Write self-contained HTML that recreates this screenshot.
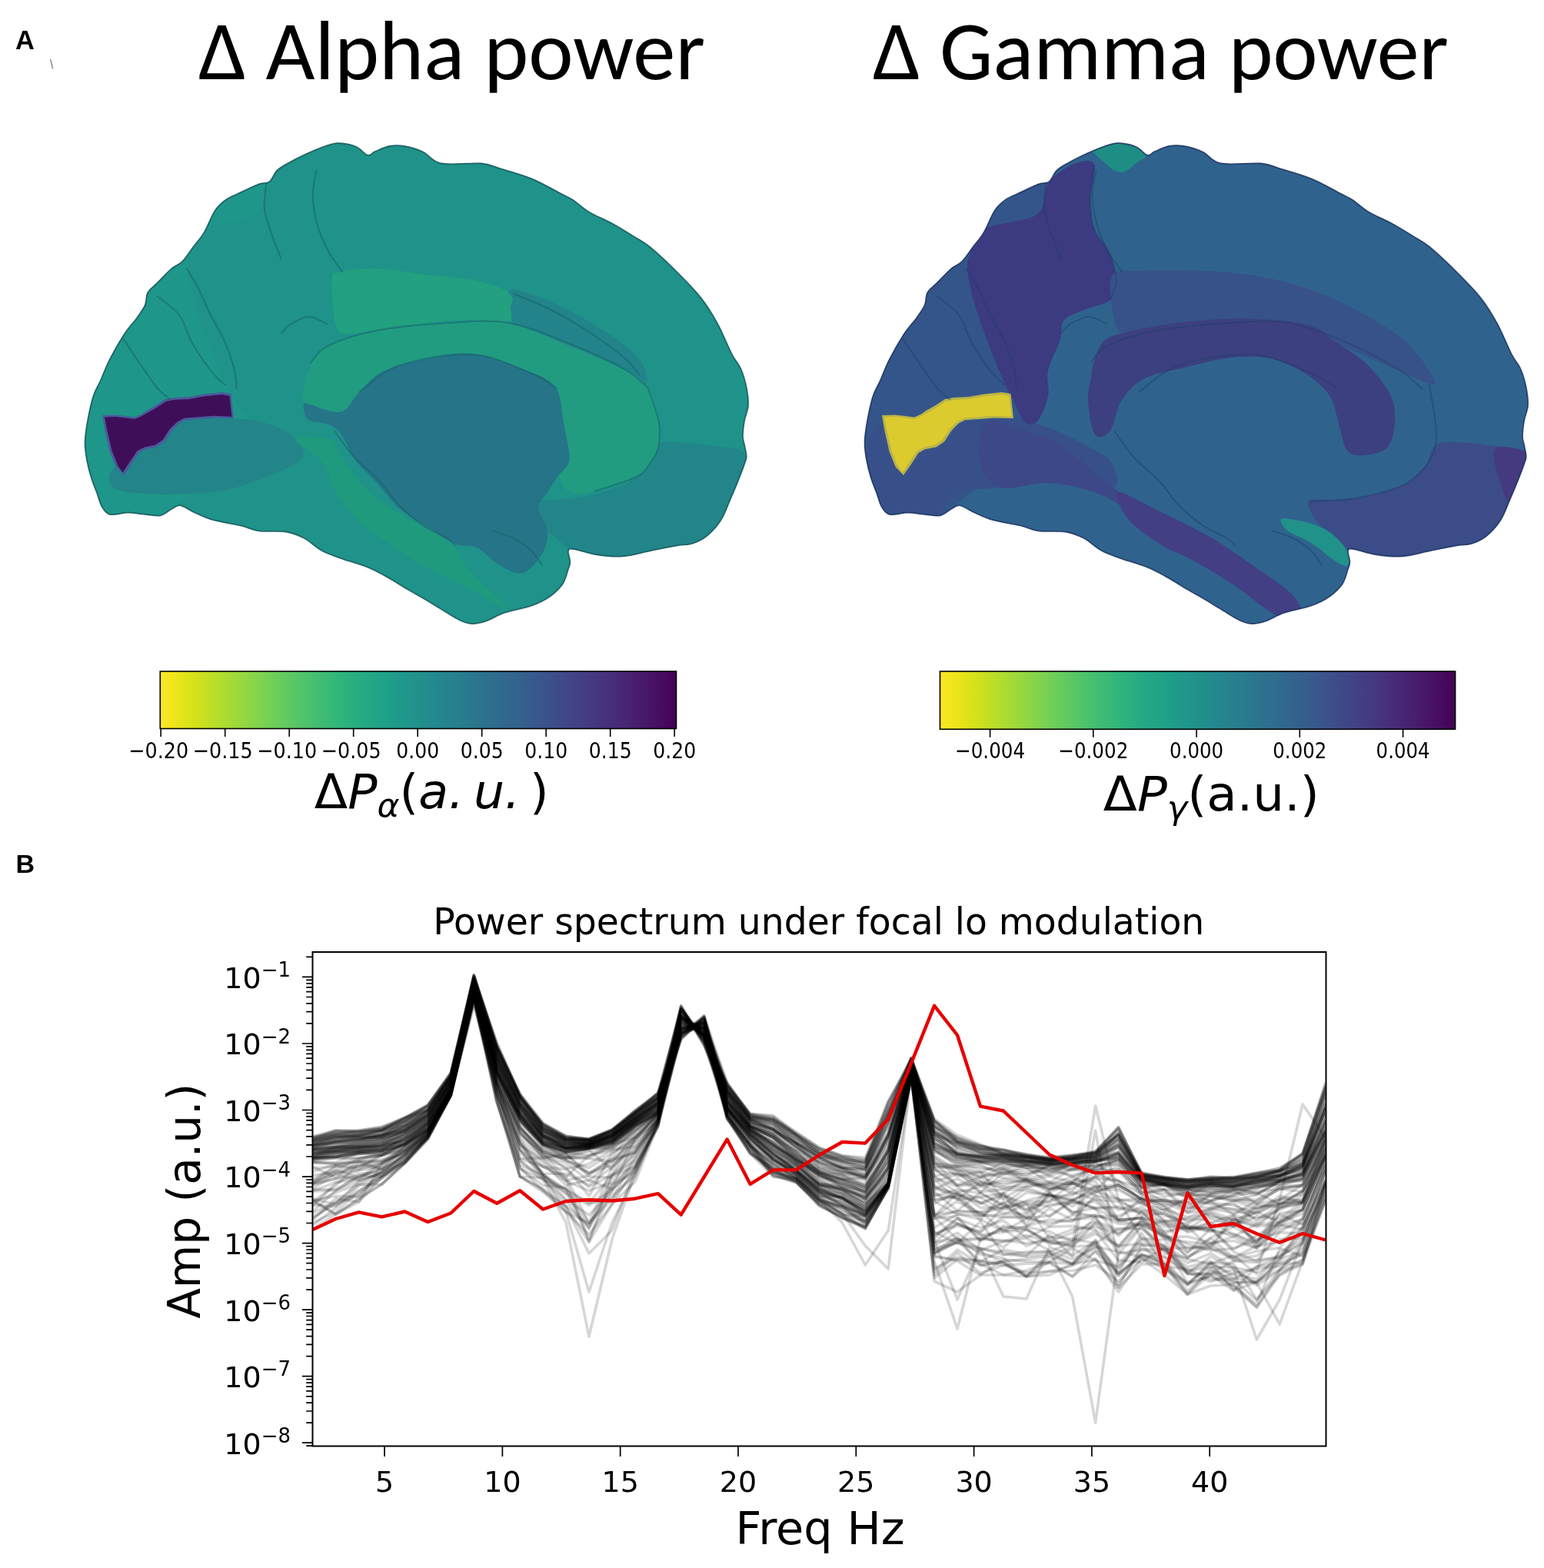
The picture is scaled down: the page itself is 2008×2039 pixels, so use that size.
<!DOCTYPE html><html><head><meta charset="utf-8"><title>Figure</title><style>html,body{margin:0;padding:0;background:#fff;}svg{display:block;}.dj{font-family:"DejaVu Sans","Liberation Sans",sans-serif;}.djo{font-family:"DejaVu Sans","Liberation Sans",sans-serif;font-style:oblique;}.ca{font-family:"Carlito","Liberation Sans",sans-serif;}.lb{font-family:"Liberation Sans",Arial,sans-serif;font-weight:bold;}</style></head><body><svg xmlns="http://www.w3.org/2000/svg" width="2008" height="2039" viewBox="0 0 2008 2039"><rect width="2008" height="2039" fill="#fff"/><defs><linearGradient id="vr" x1="0" y1="0" x2="1" y2="0"><stop offset="0.0000" stop-color="#fde725"/><stop offset="0.0312" stop-color="#ece51b"/><stop offset="0.0625" stop-color="#d8e219"/><stop offset="0.0938" stop-color="#c2df23"/><stop offset="0.1250" stop-color="#addc30"/><stop offset="0.1562" stop-color="#98d83e"/><stop offset="0.1875" stop-color="#84d44b"/><stop offset="0.2188" stop-color="#70cf57"/><stop offset="0.2500" stop-color="#5ec962"/><stop offset="0.2812" stop-color="#4ec36b"/><stop offset="0.3125" stop-color="#3fbc73"/><stop offset="0.3438" stop-color="#32b67a"/><stop offset="0.3750" stop-color="#28ae80"/><stop offset="0.4062" stop-color="#22a785"/><stop offset="0.4375" stop-color="#1fa088"/><stop offset="0.4688" stop-color="#1f988b"/><stop offset="0.5000" stop-color="#21918c"/><stop offset="0.5312" stop-color="#23898e"/><stop offset="0.5625" stop-color="#26828e"/><stop offset="0.5938" stop-color="#297a8e"/><stop offset="0.6250" stop-color="#2c728e"/><stop offset="0.6562" stop-color="#2f6b8e"/><stop offset="0.6875" stop-color="#33638d"/><stop offset="0.7188" stop-color="#375b8d"/><stop offset="0.7500" stop-color="#3b528b"/><stop offset="0.7812" stop-color="#3e4989"/><stop offset="0.8125" stop-color="#424086"/><stop offset="0.8438" stop-color="#453781"/><stop offset="0.8750" stop-color="#472d7b"/><stop offset="0.9062" stop-color="#482374"/><stop offset="0.9375" stop-color="#48186a"/><stop offset="0.9688" stop-color="#470d60"/><stop offset="1.0000" stop-color="#440154"/></linearGradient><clipPath id="bclip"><path d="M113.0,598.2 C111.6,590.3 110.4,583.2 110.6,574.5 C110.8,565.8 112.4,556.0 114.2,546.2 C116.0,536.4 118.5,524.0 121.3,515.5 C124.0,507.0 127.2,502.9 130.7,495.0 C134.2,487.1 137.4,477.9 142.5,467.8 C147.6,457.8 155.6,443.8 161.5,434.7 C167.4,425.6 173.5,419.7 178.0,413.4 C182.5,407.1 186.2,402.4 188.6,396.9 C191.0,391.4 189.6,385.1 192.2,380.4 C194.8,375.7 198.9,373.6 204.0,368.5 C209.1,363.4 217.4,354.3 222.9,349.6 C228.4,344.9 232.3,344.9 237.0,340.2 C241.7,335.5 246.6,327.6 251.3,321.3 C256.0,315.0 260.7,310.3 265.4,302.4 C270.1,294.5 274.9,281.1 279.6,274.0 C284.3,266.9 288.3,263.7 293.8,259.8 C299.3,255.9 305.6,253.8 312.7,250.4 C319.8,247.1 330.0,242.1 336.3,239.7 C342.6,237.3 346.6,239.1 350.5,236.2 C354.4,233.2 356.1,225.9 360.0,222.0 C363.9,218.1 367.1,216.4 374.2,212.5 C381.3,208.6 393.1,202.5 402.5,198.4 C411.9,194.3 423.8,189.7 430.9,187.7 C438.0,185.7 439.5,185.9 445.0,186.5 C450.5,187.1 458.5,188.7 464.0,191.3 C469.5,193.9 474.3,200.9 478.2,201.9 C482.1,202.9 482.9,199.2 487.6,197.2 C492.3,195.2 500.2,191.2 506.5,190.0 C512.8,188.8 518.1,188.8 525.4,190.0 C532.6,191.2 542.0,193.8 550.0,197.5 C558.0,201.2 561.0,210.0 573.6,212.5 C586.2,215.0 612.6,211.3 625.6,212.5 C638.6,213.7 640.6,216.2 651.6,219.6 C662.6,222.9 678.9,227.3 691.8,232.6 C704.7,237.9 720.1,247.0 729.0,251.6 C737.9,256.2 738.8,256.0 745.0,260.0 C751.2,264.0 757.2,270.4 766.0,275.7 C774.8,280.9 788.0,286.2 797.6,291.5 C807.2,296.8 815.8,302.2 823.8,307.2 C831.8,312.2 835.9,313.4 845.4,321.3 C854.9,329.2 870.0,343.4 881.0,354.4 C892.0,365.4 903.0,376.4 911.6,387.4 C920.2,398.4 926.2,408.3 932.9,420.5 C939.6,432.7 946.7,450.8 951.8,460.7 C956.9,470.6 960.5,472.9 963.6,480.0 C966.8,487.1 969.1,495.7 970.7,503.6 C972.3,511.5 973.4,520.2 973.0,527.3 C972.6,534.4 969.5,539.5 968.3,546.2 C967.1,552.9 966.0,562.0 966.0,567.5 C966.0,573.0 967.5,575.0 968.3,579.3 C969.1,583.6 970.7,589.5 970.7,593.4 C970.7,597.3 969.9,598.2 968.3,602.9 C966.7,607.6 964.4,613.9 961.2,621.8 C958.1,629.7 953.3,641.1 949.4,650.2 C945.5,659.3 942.7,668.3 937.6,676.2 C932.5,684.1 925.0,692.3 918.7,697.4 C912.4,702.5 906.1,705.0 899.8,707.0 C893.5,709.0 890.1,707.8 881.0,709.3 C871.9,710.8 857.2,713.9 845.4,716.3 C833.6,718.6 821.8,722.6 810.0,723.4 C798.2,724.2 785.1,722.6 774.5,721.0 C763.9,719.4 752.1,714.8 746.2,714.0 C740.3,713.2 739.8,713.5 739.0,716.3 C738.2,719.0 741.4,726.5 741.4,730.5 C741.4,734.5 740.6,735.3 739.0,740.0 C737.4,744.7 735.9,753.0 732.0,758.9 C728.1,764.8 722.1,770.7 715.4,775.4 C708.7,780.1 701.6,783.8 691.8,787.3 C682.0,790.8 666.2,793.4 656.4,796.7 C646.5,800.0 639.8,804.9 632.7,807.3 C625.6,809.7 619.7,811.2 613.8,811.0 C607.9,810.8 604.0,809.4 597.3,806.2 C590.6,803.0 581.5,796.7 573.6,792.0 C565.7,787.3 558.0,782.5 550.0,777.8 C542.0,773.1 533.4,768.3 525.4,763.6 C517.4,758.9 509.7,753.7 501.8,749.4 C493.9,745.1 488.1,741.5 478.2,737.6 C468.3,733.7 452.6,729.3 442.7,725.8 C432.8,722.2 426.9,720.6 419.0,716.3 C411.1,712.0 403.3,703.9 395.4,699.8 C387.5,695.7 381.6,693.1 371.8,691.5 C362.0,689.9 346.2,691.7 336.3,690.3 C326.4,688.9 322.5,685.6 312.7,683.3 C302.9,680.9 287.2,679.0 277.3,676.2 C267.4,673.4 260.7,669.9 253.6,666.7 C246.5,663.6 239.8,658.1 234.7,657.3 C229.6,656.5 227.2,659.8 222.9,662.0 C218.6,664.2 214.2,669.1 208.7,670.3 C203.2,671.5 196.9,669.6 189.8,669.0 C182.7,668.4 173.9,666.7 166.2,666.7 C158.5,666.7 149.2,670.2 143.7,669.0 C138.2,667.8 135.9,664.3 133.0,659.6 C130.1,654.9 128.3,647.0 126.0,640.7 C123.7,634.4 121.1,628.9 118.9,621.8 C116.7,614.7 114.4,606.1 113.0,598.2Z"/></clipPath><clipPath id="axclip"><rect x="406.5" y="1238" width="1318" height="642.5"/></clipPath></defs><text class="lb" x="20" y="63.9" font-size="34.4">A</text><line x1="65.6" y1="77" x2="68.6" y2="89.5" stroke="#777" stroke-width="1.2"/><text class="lb" x="20.5" y="1134.6" font-size="34">B</text><text class="ca" x="258" y="102.5" font-size="108.5" textLength="659" lengthAdjust="spacingAndGlyphs">Δ Alpha power</text><text class="ca" x="1135" y="102.5" font-size="108.5" textLength="749" lengthAdjust="spacingAndGlyphs">Δ Gamma power</text><g><path d="M113.0,598.2 C111.6,590.3 110.4,583.2 110.6,574.5 C110.8,565.8 112.4,556.0 114.2,546.2 C116.0,536.4 118.5,524.0 121.3,515.5 C124.0,507.0 127.2,502.9 130.7,495.0 C134.2,487.1 137.4,477.9 142.5,467.8 C147.6,457.8 155.6,443.8 161.5,434.7 C167.4,425.6 173.5,419.7 178.0,413.4 C182.5,407.1 186.2,402.4 188.6,396.9 C191.0,391.4 189.6,385.1 192.2,380.4 C194.8,375.7 198.9,373.6 204.0,368.5 C209.1,363.4 217.4,354.3 222.9,349.6 C228.4,344.9 232.3,344.9 237.0,340.2 C241.7,335.5 246.6,327.6 251.3,321.3 C256.0,315.0 260.7,310.3 265.4,302.4 C270.1,294.5 274.9,281.1 279.6,274.0 C284.3,266.9 288.3,263.7 293.8,259.8 C299.3,255.9 305.6,253.8 312.7,250.4 C319.8,247.1 330.0,242.1 336.3,239.7 C342.6,237.3 346.6,239.1 350.5,236.2 C354.4,233.2 356.1,225.9 360.0,222.0 C363.9,218.1 367.1,216.4 374.2,212.5 C381.3,208.6 393.1,202.5 402.5,198.4 C411.9,194.3 423.8,189.7 430.9,187.7 C438.0,185.7 439.5,185.9 445.0,186.5 C450.5,187.1 458.5,188.7 464.0,191.3 C469.5,193.9 474.3,200.9 478.2,201.9 C482.1,202.9 482.9,199.2 487.6,197.2 C492.3,195.2 500.2,191.2 506.5,190.0 C512.8,188.8 518.1,188.8 525.4,190.0 C532.6,191.2 542.0,193.8 550.0,197.5 C558.0,201.2 561.0,210.0 573.6,212.5 C586.2,215.0 612.6,211.3 625.6,212.5 C638.6,213.7 640.6,216.2 651.6,219.6 C662.6,222.9 678.9,227.3 691.8,232.6 C704.7,237.9 720.1,247.0 729.0,251.6 C737.9,256.2 738.8,256.0 745.0,260.0 C751.2,264.0 757.2,270.4 766.0,275.7 C774.8,280.9 788.0,286.2 797.6,291.5 C807.2,296.8 815.8,302.2 823.8,307.2 C831.8,312.2 835.9,313.4 845.4,321.3 C854.9,329.2 870.0,343.4 881.0,354.4 C892.0,365.4 903.0,376.4 911.6,387.4 C920.2,398.4 926.2,408.3 932.9,420.5 C939.6,432.7 946.7,450.8 951.8,460.7 C956.9,470.6 960.5,472.9 963.6,480.0 C966.8,487.1 969.1,495.7 970.7,503.6 C972.3,511.5 973.4,520.2 973.0,527.3 C972.6,534.4 969.5,539.5 968.3,546.2 C967.1,552.9 966.0,562.0 966.0,567.5 C966.0,573.0 967.5,575.0 968.3,579.3 C969.1,583.6 970.7,589.5 970.7,593.4 C970.7,597.3 969.9,598.2 968.3,602.9 C966.7,607.6 964.4,613.9 961.2,621.8 C958.1,629.7 953.3,641.1 949.4,650.2 C945.5,659.3 942.7,668.3 937.6,676.2 C932.5,684.1 925.0,692.3 918.7,697.4 C912.4,702.5 906.1,705.0 899.8,707.0 C893.5,709.0 890.1,707.8 881.0,709.3 C871.9,710.8 857.2,713.9 845.4,716.3 C833.6,718.6 821.8,722.6 810.0,723.4 C798.2,724.2 785.1,722.6 774.5,721.0 C763.9,719.4 752.1,714.8 746.2,714.0 C740.3,713.2 739.8,713.5 739.0,716.3 C738.2,719.0 741.4,726.5 741.4,730.5 C741.4,734.5 740.6,735.3 739.0,740.0 C737.4,744.7 735.9,753.0 732.0,758.9 C728.1,764.8 722.1,770.7 715.4,775.4 C708.7,780.1 701.6,783.8 691.8,787.3 C682.0,790.8 666.2,793.4 656.4,796.7 C646.5,800.0 639.8,804.9 632.7,807.3 C625.6,809.7 619.7,811.2 613.8,811.0 C607.9,810.8 604.0,809.4 597.3,806.2 C590.6,803.0 581.5,796.7 573.6,792.0 C565.7,787.3 558.0,782.5 550.0,777.8 C542.0,773.1 533.4,768.3 525.4,763.6 C517.4,758.9 509.7,753.7 501.8,749.4 C493.9,745.1 488.1,741.5 478.2,737.6 C468.3,733.7 452.6,729.3 442.7,725.8 C432.8,722.2 426.9,720.6 419.0,716.3 C411.1,712.0 403.3,703.9 395.4,699.8 C387.5,695.7 381.6,693.1 371.8,691.5 C362.0,689.9 346.2,691.7 336.3,690.3 C326.4,688.9 322.5,685.6 312.7,683.3 C302.9,680.9 287.2,679.0 277.3,676.2 C267.4,673.4 260.7,669.9 253.6,666.7 C246.5,663.6 239.8,658.1 234.7,657.3 C229.6,656.5 227.2,659.8 222.9,662.0 C218.6,664.2 214.2,669.1 208.7,670.3 C203.2,671.5 196.9,669.6 189.8,669.0 C182.7,668.4 173.9,666.7 166.2,666.7 C158.5,666.7 149.2,670.2 143.7,669.0 C138.2,667.8 135.9,664.3 133.0,659.6 C130.1,654.9 128.3,647.0 126.0,640.7 C123.7,634.4 121.1,628.9 118.9,621.8 C116.7,614.7 114.4,606.1 113.0,598.2Z" fill="#1f9289"/><g clip-path="url(#bclip)"><path d="M90.0,340.0 C105.0,290.0 151.7,310.0 180.0,300.0 C208.3,290.0 235.0,290.0 260.0,280.0 C285.0,270.0 314.3,248.3 330.0,240.0 C345.7,231.7 351.3,228.7 354.0,230.0 C356.7,231.3 349.5,239.7 346.0,248.0 C342.5,256.3 346.5,271.7 333.0,280.0 C319.5,288.3 279.0,290.2 265.0,298.0 C251.0,305.8 252.5,318.7 249.0,327.0 C245.5,335.3 243.5,337.5 244.0,348.0 C244.5,358.5 247.7,374.2 252.0,390.0 C256.3,405.8 263.5,425.5 270.0,443.0 C276.5,460.5 285.3,482.0 291.0,495.0 C296.7,508.0 297.5,511.0 304.0,521.0 C310.5,531.0 330.7,541.8 330.0,555.0 C329.3,568.2 313.3,585.8 300.0,600.0 C286.7,614.2 266.7,627.5 250.0,640.0 C233.3,652.5 220.0,666.7 200.0,675.0 C180.0,683.3 148.3,702.5 130.0,690.0 C111.7,677.5 96.7,658.3 90.0,600.0 C83.3,541.7 75.0,390.0 90.0,340.0Z" fill="#1f968a"/><path d="M145.0,612.0 C148.0,607.8 155.0,603.7 160.0,600.0 C165.0,596.3 170.0,593.0 175.0,590.0 C180.0,587.0 185.0,584.3 190.0,582.0 C195.0,579.7 200.8,578.7 205.0,576.0 C209.2,573.3 211.7,570.0 215.0,566.0 C218.3,562.0 220.8,555.3 225.0,552.0 C229.2,548.7 230.8,547.5 240.0,546.0 C249.2,544.5 270.0,543.3 280.0,543.0 C290.0,542.7 290.7,543.2 300.0,544.0 C309.3,544.8 324.3,545.3 336.0,548.0 C347.7,550.7 361.0,555.0 370.0,560.0 C379.0,565.0 386.2,572.2 390.0,578.0 C393.8,583.8 396.3,589.7 393.0,595.0 C389.7,600.3 379.5,605.2 370.0,610.0 C360.5,614.8 349.5,619.3 336.0,624.0 C322.5,628.7 308.7,634.8 289.0,638.0 C269.3,641.2 240.0,643.0 218.0,643.0 C196.0,643.0 169.7,641.0 157.0,638.0 C144.3,635.0 144.0,629.3 142.0,625.0 C140.0,620.7 142.0,616.2 145.0,612.0Z" fill="#23848a"/><path d="M688.0,652.0 C691.3,647.0 709.0,650.8 720.0,650.0 C731.0,649.2 742.3,649.0 754.0,647.0 C765.7,645.0 779.2,641.5 790.0,638.0 C800.8,634.5 810.7,631.5 819.0,626.0 C827.3,620.5 834.3,612.8 840.0,605.0 C845.7,597.2 846.3,584.0 853.0,579.0 C859.7,574.0 867.2,574.8 880.0,575.0 C892.8,575.2 915.3,577.5 930.0,580.0 C944.7,582.5 958.8,580.0 968.0,590.0 C977.2,600.0 984.7,623.3 985.0,640.0 C985.3,656.7 978.3,678.3 970.0,690.0 C961.7,701.7 946.7,705.8 935.0,710.0 C923.3,714.2 912.5,713.0 900.0,715.0 C887.5,717.0 875.0,719.5 860.0,722.0 C845.0,724.5 825.0,729.0 810.0,730.0 C795.0,731.0 780.8,729.7 770.0,728.0 C759.2,726.3 751.7,723.8 745.0,720.0 C738.3,716.2 737.5,711.7 730.0,705.0 C722.5,698.3 707.0,688.8 700.0,680.0 C693.0,671.2 684.7,657.0 688.0,652.0Z" fill="#228589"/><path d="M662.0,378.0 C667.7,372.7 687.0,381.7 700.0,386.0 C713.0,390.3 726.7,397.2 740.0,404.0 C753.3,410.8 767.5,419.2 780.0,427.0 C792.5,434.8 805.3,442.5 815.0,451.0 C824.7,459.5 834.5,469.0 838.0,478.0 C841.5,487.0 842.3,504.7 836.0,505.0 C829.7,505.3 812.7,487.5 800.0,480.0 C787.3,472.5 773.2,466.2 760.0,460.0 C746.8,453.8 734.0,448.0 721.0,443.0 C708.0,438.0 691.2,434.2 682.0,430.0 C672.8,425.8 669.3,426.7 666.0,418.0 C662.7,409.3 656.3,383.3 662.0,378.0Z" fill="#22838b"/><path d="M432.0,362.0 C433.0,355.2 429.5,356.2 439.0,354.0 C448.5,351.8 470.2,348.5 489.0,349.0 C507.8,349.5 531.0,354.5 552.0,357.0 C573.0,359.5 598.7,361.2 615.0,364.0 C631.3,366.8 641.5,370.3 650.0,374.0 C658.5,377.7 663.7,381.7 666.0,386.0 C668.3,390.3 664.7,394.7 664.0,400.0 C663.3,405.3 669.3,415.3 662.0,418.0 C654.7,420.7 633.2,416.2 620.0,416.0 C606.8,415.8 599.7,415.7 583.0,417.0 C566.3,418.3 538.8,421.5 520.0,424.0 C501.2,426.5 482.5,430.5 470.0,432.0 C457.5,433.5 450.7,435.0 445.0,433.0 C439.3,431.0 438.0,426.3 436.0,420.0 C434.0,413.7 433.7,404.7 433.0,395.0 C432.3,385.3 431.0,368.8 432.0,362.0Z" fill="#22a07f"/><path d="M394.0,519.0 C392.3,511.2 397.0,494.5 400.0,485.0 C403.0,475.5 407.0,468.2 412.0,462.0 C417.0,455.8 417.2,453.3 430.0,448.0 C442.8,442.7 463.5,434.7 489.0,430.0 C514.5,425.3 554.2,421.5 583.0,420.0 C611.8,418.5 635.7,416.0 662.0,421.0 C688.3,426.0 716.0,440.0 741.0,450.0 C766.0,460.0 795.0,471.8 812.0,481.0 C829.0,490.2 835.5,493.5 843.0,505.0 C850.5,516.5 854.8,537.2 857.0,550.0 C859.2,562.8 858.0,573.2 856.0,582.0 C854.0,590.8 849.7,596.7 845.0,603.0 C840.3,609.3 840.0,614.0 828.0,620.0 C816.0,626.0 787.5,635.7 773.0,639.0 C758.5,642.3 748.8,644.0 741.0,640.0 C733.2,636.0 726.0,622.0 726.0,615.0 C726.0,608.0 740.0,608.7 741.0,598.0 C742.0,587.3 734.7,564.2 732.0,551.0 C729.3,537.8 732.0,528.8 725.0,519.0 C718.0,509.2 708.3,501.5 690.0,492.0 C671.7,482.5 638.0,466.5 615.0,462.0 C592.0,457.5 573.0,459.7 552.0,465.0 C531.0,470.3 503.7,486.0 489.0,494.0 C474.3,502.0 470.3,506.2 464.0,513.0 C457.7,519.8 456.3,530.8 451.0,535.0 C445.7,539.2 438.8,538.5 432.0,538.0 C425.2,537.5 416.3,535.2 410.0,532.0 C403.7,528.8 395.7,526.8 394.0,519.0Z" fill="#229c81"/><path d="M467.0,510.0 C475.0,502.0 484.5,489.3 500.0,482.0 C515.5,474.7 540.8,469.7 560.0,466.0 C579.2,462.3 595.0,457.7 615.0,460.0 C635.0,462.3 662.2,472.8 680.0,480.0 C697.8,487.2 713.2,491.3 722.0,503.0 C730.8,514.7 730.0,534.2 733.0,550.0 C736.0,565.8 741.3,586.3 740.0,598.0 C738.7,609.7 729.7,613.0 725.0,620.0 C720.3,627.0 716.2,633.3 712.0,640.0 C707.8,646.7 700.0,651.7 700.0,660.0 C700.0,668.3 711.2,680.0 712.0,690.0 C712.8,700.0 710.3,710.8 705.0,720.0 C699.7,729.2 689.2,742.5 680.0,745.0 C670.8,747.5 660.0,740.5 650.0,735.0 C640.0,729.5 629.3,716.5 620.0,712.0 C610.7,707.5 604.0,712.0 594.0,708.0 C584.0,704.0 572.3,695.7 560.0,688.0 C547.7,680.3 531.3,671.7 520.0,662.0 C508.7,652.3 501.7,640.7 492.0,630.0 C482.3,619.3 469.5,608.0 462.0,598.0 C454.5,588.0 451.5,577.0 447.0,570.0 C442.5,563.0 439.5,559.3 435.0,556.0 C430.5,552.7 425.8,551.8 420.0,550.0 C414.2,548.2 404.0,549.2 400.0,545.0 C396.0,540.8 392.7,527.2 396.0,525.0 C399.3,522.8 412.7,530.2 420.0,532.0 C427.3,533.8 434.7,536.3 440.0,536.0 C445.3,535.7 447.5,534.3 452.0,530.0 C456.5,525.7 459.0,518.0 467.0,510.0Z" fill="#267488"/><path d="M384.0,570.0 C382.0,574.7 409.2,588.3 418.0,600.0 C426.8,611.7 430.7,629.0 437.0,640.0 C443.3,651.0 449.2,658.0 456.0,666.0 C462.8,674.0 469.3,681.0 478.0,688.0 C486.7,695.0 497.7,701.0 508.0,708.0 C518.3,715.0 527.7,722.7 540.0,730.0 C552.3,737.3 568.0,744.8 582.0,752.0 C596.0,759.2 613.5,767.5 624.0,773.0 C634.5,778.5 639.0,782.2 645.0,785.0 C651.0,787.8 660.8,792.5 660.0,790.0 C659.2,787.5 649.2,779.2 640.0,770.0 C630.8,760.8 613.0,744.7 605.0,735.0 C597.0,725.3 599.3,719.5 592.0,712.0 C584.7,704.5 573.2,697.3 561.0,690.0 C548.8,682.7 531.2,675.2 519.0,668.0 C506.8,660.8 497.8,655.5 488.0,647.0 C478.2,638.5 467.8,626.8 460.0,617.0 C452.2,607.2 446.0,595.5 441.0,588.0 C436.0,580.5 439.5,575.0 430.0,572.0 C420.5,569.0 386.0,565.3 384.0,570.0Z" fill="#1f9a7c"/><path d="M133.0,540.0 L150.0,539.5 L164.0,541.0 L175.0,542.5 L183.0,539.0 L192.0,533.0 L201.0,528.0 L215.0,519.0 L226.0,517.0 L246.0,516.0 L265.0,512.5 L289.0,510.0 L300.5,512.0 L304.0,544.0 L278.0,543.5 L241.0,546.3 L232.5,550.8 L223.5,560.0 L214.0,574.5 L203.5,581.5 L189.0,584.2 L180.5,589.0 L171.5,603.0 L161.0,618.0 L150.5,607.0 L142.5,587.0 L136.0,558.0Z" fill="#4a5a9a"/><path d="M136.0,542.5 L150.0,542.0 L164.0,543.6 L175.0,545.0 L183.0,541.7 L193.0,536.0 L202.0,531.0 L216.0,522.0 L226.0,520.0 L246.0,519.0 L265.0,515.5 L289.0,513.0 L298.5,515.0 L301.5,541.7 L278.0,540.8 L240.0,543.6 L230.5,548.4 L221.0,557.8 L211.6,572.0 L202.0,578.6 L188.0,581.4 L178.5,586.2 L169.0,600.3 L159.6,614.5 L153.0,605.0 L145.5,586.0 L139.0,558.0Z" fill="#3e0f58"/><path d="M404.0,472.0 C407.7,468.3 411.8,457.0 426.0,450.0 C440.2,443.0 462.8,435.0 489.0,430.0 C515.2,425.0 554.2,421.7 583.0,420.0 C611.8,418.3 635.7,415.5 662.0,420.0 C688.3,424.5 716.0,437.0 741.0,447.0 C766.0,457.0 795.0,470.3 812.0,480.0 C829.0,489.7 837.8,500.8 843.0,505.0" fill="none" stroke="#135f66" stroke-opacity="0.5" stroke-width="2"/><path d="M467.0,510.0 C475.8,504.2 495.3,483.2 520.0,475.0 C544.7,466.8 586.7,459.3 615.0,461.0 C643.3,462.7 671.7,477.7 690.0,485.0 C708.3,492.3 719.2,501.7 725.0,505.0" fill="none" stroke="#135f66" stroke-opacity="0.5" stroke-width="2"/><path d="M435.0,560.0 C439.2,565.7 450.2,583.0 460.0,594.0 C469.8,605.0 484.2,615.5 494.0,626.0 C503.8,636.5 509.7,647.5 519.0,657.0 C528.3,666.5 539.5,675.8 550.0,683.0 C560.5,690.2 574.8,695.5 582.0,700.0 C589.2,704.5 591.2,708.3 593.0,710.0" fill="none" stroke="#135f66" stroke-opacity="0.5" stroke-width="2"/><path d="M640.0,690.0 C644.7,691.7 659.7,695.8 668.0,700.0 C676.3,704.2 683.8,709.2 690.0,715.0 C696.2,720.8 702.5,731.7 705.0,735.0" fill="none" stroke="#135f66" stroke-opacity="0.5" stroke-width="2"/><path d="M668.0,382.0 C676.8,385.8 703.3,395.8 721.0,405.0 C738.7,414.2 758.7,426.8 774.0,437.0 C789.3,447.2 803.3,457.5 813.0,466.0 C822.7,474.5 828.8,484.3 832.0,488.0" fill="none" stroke="#135f66" stroke-opacity="0.5" stroke-width="2"/><path d="M843.0,505.0 C845.3,512.5 854.8,537.2 857.0,550.0 C859.2,562.8 858.0,573.2 856.0,582.0 C854.0,590.8 849.7,596.7 845.0,603.0 C840.3,609.3 840.0,614.0 828.0,620.0 C816.0,626.0 782.2,635.8 773.0,639.0" fill="none" stroke="#135f66" stroke-opacity="0.5" stroke-width="2"/><path d="M411.7,221.0 C410.9,226.2 406.8,241.2 406.8,252.5 C406.8,263.8 408.5,276.6 411.7,288.7 C414.9,300.8 420.4,314.1 426.0,325.0 C431.6,335.9 442.2,349.2 445.5,354.0" fill="none" stroke="#135f66" stroke-opacity="0.5" stroke-width="2"/><path d="M346.4,238.0 C346.0,243.6 342.8,260.5 344.0,271.8 C345.2,283.1 350.1,294.7 353.7,305.6 C357.3,316.5 363.8,331.8 365.8,337.0" fill="none" stroke="#135f66" stroke-opacity="0.5" stroke-width="2"/><path d="M242.5,349.0 C244.9,353.0 251.8,362.9 257.0,373.0 C262.2,383.1 268.0,397.4 274.0,409.5 C280.0,421.6 287.8,433.7 293.0,445.8 C298.2,457.9 302.5,472.0 305.0,482.0 C307.5,492.0 307.3,502.0 307.8,506.0" fill="none" stroke="#135f66" stroke-opacity="0.5" stroke-width="2"/><path d="M204.0,385.0 C208.8,389.1 225.4,399.4 233.0,409.5 C240.6,419.6 243.0,433.7 249.8,445.8 C256.6,457.9 266.8,472.8 274.0,482.0 C281.2,491.2 289.8,497.8 293.0,501.0" fill="none" stroke="#135f66" stroke-opacity="0.5" stroke-width="2"/><path d="M365.8,433.7 C367.8,431.7 371.9,425.2 377.9,421.6 C383.9,418.0 394.0,412.0 402.0,412.0 C410.0,412.0 422.0,420.0 426.0,421.6" fill="none" stroke="#135f66" stroke-opacity="0.5" stroke-width="2"/><path d="M160.0,440.0 C163.3,445.0 172.5,459.2 180.0,470.0 C187.5,480.8 198.0,496.7 205.0,505.0 C212.0,513.3 219.2,517.5 222.0,520.0" fill="none" stroke="#135f66" stroke-opacity="0.5" stroke-width="2"/></g><path d="M113.0,598.2 C111.6,590.3 110.4,583.2 110.6,574.5 C110.8,565.8 112.4,556.0 114.2,546.2 C116.0,536.4 118.5,524.0 121.3,515.5 C124.0,507.0 127.2,502.9 130.7,495.0 C134.2,487.1 137.4,477.9 142.5,467.8 C147.6,457.8 155.6,443.8 161.5,434.7 C167.4,425.6 173.5,419.7 178.0,413.4 C182.5,407.1 186.2,402.4 188.6,396.9 C191.0,391.4 189.6,385.1 192.2,380.4 C194.8,375.7 198.9,373.6 204.0,368.5 C209.1,363.4 217.4,354.3 222.9,349.6 C228.4,344.9 232.3,344.9 237.0,340.2 C241.7,335.5 246.6,327.6 251.3,321.3 C256.0,315.0 260.7,310.3 265.4,302.4 C270.1,294.5 274.9,281.1 279.6,274.0 C284.3,266.9 288.3,263.7 293.8,259.8 C299.3,255.9 305.6,253.8 312.7,250.4 C319.8,247.1 330.0,242.1 336.3,239.7 C342.6,237.3 346.6,239.1 350.5,236.2 C354.4,233.2 356.1,225.9 360.0,222.0 C363.9,218.1 367.1,216.4 374.2,212.5 C381.3,208.6 393.1,202.5 402.5,198.4 C411.9,194.3 423.8,189.7 430.9,187.7 C438.0,185.7 439.5,185.9 445.0,186.5 C450.5,187.1 458.5,188.7 464.0,191.3 C469.5,193.9 474.3,200.9 478.2,201.9 C482.1,202.9 482.9,199.2 487.6,197.2 C492.3,195.2 500.2,191.2 506.5,190.0 C512.8,188.8 518.1,188.8 525.4,190.0 C532.6,191.2 542.0,193.8 550.0,197.5 C558.0,201.2 561.0,210.0 573.6,212.5 C586.2,215.0 612.6,211.3 625.6,212.5 C638.6,213.7 640.6,216.2 651.6,219.6 C662.6,222.9 678.9,227.3 691.8,232.6 C704.7,237.9 720.1,247.0 729.0,251.6 C737.9,256.2 738.8,256.0 745.0,260.0 C751.2,264.0 757.2,270.4 766.0,275.7 C774.8,280.9 788.0,286.2 797.6,291.5 C807.2,296.8 815.8,302.2 823.8,307.2 C831.8,312.2 835.9,313.4 845.4,321.3 C854.9,329.2 870.0,343.4 881.0,354.4 C892.0,365.4 903.0,376.4 911.6,387.4 C920.2,398.4 926.2,408.3 932.9,420.5 C939.6,432.7 946.7,450.8 951.8,460.7 C956.9,470.6 960.5,472.9 963.6,480.0 C966.8,487.1 969.1,495.7 970.7,503.6 C972.3,511.5 973.4,520.2 973.0,527.3 C972.6,534.4 969.5,539.5 968.3,546.2 C967.1,552.9 966.0,562.0 966.0,567.5 C966.0,573.0 967.5,575.0 968.3,579.3 C969.1,583.6 970.7,589.5 970.7,593.4 C970.7,597.3 969.9,598.2 968.3,602.9 C966.7,607.6 964.4,613.9 961.2,621.8 C958.1,629.7 953.3,641.1 949.4,650.2 C945.5,659.3 942.7,668.3 937.6,676.2 C932.5,684.1 925.0,692.3 918.7,697.4 C912.4,702.5 906.1,705.0 899.8,707.0 C893.5,709.0 890.1,707.8 881.0,709.3 C871.9,710.8 857.2,713.9 845.4,716.3 C833.6,718.6 821.8,722.6 810.0,723.4 C798.2,724.2 785.1,722.6 774.5,721.0 C763.9,719.4 752.1,714.8 746.2,714.0 C740.3,713.2 739.8,713.5 739.0,716.3 C738.2,719.0 741.4,726.5 741.4,730.5 C741.4,734.5 740.6,735.3 739.0,740.0 C737.4,744.7 735.9,753.0 732.0,758.9 C728.1,764.8 722.1,770.7 715.4,775.4 C708.7,780.1 701.6,783.8 691.8,787.3 C682.0,790.8 666.2,793.4 656.4,796.7 C646.5,800.0 639.8,804.9 632.7,807.3 C625.6,809.7 619.7,811.2 613.8,811.0 C607.9,810.8 604.0,809.4 597.3,806.2 C590.6,803.0 581.5,796.7 573.6,792.0 C565.7,787.3 558.0,782.5 550.0,777.8 C542.0,773.1 533.4,768.3 525.4,763.6 C517.4,758.9 509.7,753.7 501.8,749.4 C493.9,745.1 488.1,741.5 478.2,737.6 C468.3,733.7 452.6,729.3 442.7,725.8 C432.8,722.2 426.9,720.6 419.0,716.3 C411.1,712.0 403.3,703.9 395.4,699.8 C387.5,695.7 381.6,693.1 371.8,691.5 C362.0,689.9 346.2,691.7 336.3,690.3 C326.4,688.9 322.5,685.6 312.7,683.3 C302.9,680.9 287.2,679.0 277.3,676.2 C267.4,673.4 260.7,669.9 253.6,666.7 C246.5,663.6 239.8,658.1 234.7,657.3 C229.6,656.5 227.2,659.8 222.9,662.0 C218.6,664.2 214.2,669.1 208.7,670.3 C203.2,671.5 196.9,669.6 189.8,669.0 C182.7,668.4 173.9,666.7 166.2,666.7 C158.5,666.7 149.2,670.2 143.7,669.0 C138.2,667.8 135.9,664.3 133.0,659.6 C130.1,654.9 128.3,647.0 126.0,640.7 C123.7,634.4 121.1,628.9 118.9,621.8 C116.7,614.7 114.4,606.1 113.0,598.2Z" fill="none" stroke="#14575c" stroke-width="1.8" stroke-opacity="0.85"/></g><g transform="translate(1014,0)"><g><path d="M113.0,598.2 C111.6,590.3 110.4,583.2 110.6,574.5 C110.8,565.8 112.4,556.0 114.2,546.2 C116.0,536.4 118.5,524.0 121.3,515.5 C124.0,507.0 127.2,502.9 130.7,495.0 C134.2,487.1 137.4,477.9 142.5,467.8 C147.6,457.8 155.6,443.8 161.5,434.7 C167.4,425.6 173.5,419.7 178.0,413.4 C182.5,407.1 186.2,402.4 188.6,396.9 C191.0,391.4 189.6,385.1 192.2,380.4 C194.8,375.7 198.9,373.6 204.0,368.5 C209.1,363.4 217.4,354.3 222.9,349.6 C228.4,344.9 232.3,344.9 237.0,340.2 C241.7,335.5 246.6,327.6 251.3,321.3 C256.0,315.0 260.7,310.3 265.4,302.4 C270.1,294.5 274.9,281.1 279.6,274.0 C284.3,266.9 288.3,263.7 293.8,259.8 C299.3,255.9 305.6,253.8 312.7,250.4 C319.8,247.1 330.0,242.1 336.3,239.7 C342.6,237.3 346.6,239.1 350.5,236.2 C354.4,233.2 356.1,225.9 360.0,222.0 C363.9,218.1 367.1,216.4 374.2,212.5 C381.3,208.6 393.1,202.5 402.5,198.4 C411.9,194.3 423.8,189.7 430.9,187.7 C438.0,185.7 439.5,185.9 445.0,186.5 C450.5,187.1 458.5,188.7 464.0,191.3 C469.5,193.9 474.3,200.9 478.2,201.9 C482.1,202.9 482.9,199.2 487.6,197.2 C492.3,195.2 500.2,191.2 506.5,190.0 C512.8,188.8 518.1,188.8 525.4,190.0 C532.6,191.2 542.0,193.8 550.0,197.5 C558.0,201.2 561.0,210.0 573.6,212.5 C586.2,215.0 612.6,211.3 625.6,212.5 C638.6,213.7 640.6,216.2 651.6,219.6 C662.6,222.9 678.9,227.3 691.8,232.6 C704.7,237.9 720.1,247.0 729.0,251.6 C737.9,256.2 738.8,256.0 745.0,260.0 C751.2,264.0 757.2,270.4 766.0,275.7 C774.8,280.9 788.0,286.2 797.6,291.5 C807.2,296.8 815.8,302.2 823.8,307.2 C831.8,312.2 835.9,313.4 845.4,321.3 C854.9,329.2 870.0,343.4 881.0,354.4 C892.0,365.4 903.0,376.4 911.6,387.4 C920.2,398.4 926.2,408.3 932.9,420.5 C939.6,432.7 946.7,450.8 951.8,460.7 C956.9,470.6 960.5,472.9 963.6,480.0 C966.8,487.1 969.1,495.7 970.7,503.6 C972.3,511.5 973.4,520.2 973.0,527.3 C972.6,534.4 969.5,539.5 968.3,546.2 C967.1,552.9 966.0,562.0 966.0,567.5 C966.0,573.0 967.5,575.0 968.3,579.3 C969.1,583.6 970.7,589.5 970.7,593.4 C970.7,597.3 969.9,598.2 968.3,602.9 C966.7,607.6 964.4,613.9 961.2,621.8 C958.1,629.7 953.3,641.1 949.4,650.2 C945.5,659.3 942.7,668.3 937.6,676.2 C932.5,684.1 925.0,692.3 918.7,697.4 C912.4,702.5 906.1,705.0 899.8,707.0 C893.5,709.0 890.1,707.8 881.0,709.3 C871.9,710.8 857.2,713.9 845.4,716.3 C833.6,718.6 821.8,722.6 810.0,723.4 C798.2,724.2 785.1,722.6 774.5,721.0 C763.9,719.4 752.1,714.8 746.2,714.0 C740.3,713.2 739.8,713.5 739.0,716.3 C738.2,719.0 741.4,726.5 741.4,730.5 C741.4,734.5 740.6,735.3 739.0,740.0 C737.4,744.7 735.9,753.0 732.0,758.9 C728.1,764.8 722.1,770.7 715.4,775.4 C708.7,780.1 701.6,783.8 691.8,787.3 C682.0,790.8 666.2,793.4 656.4,796.7 C646.5,800.0 639.8,804.9 632.7,807.3 C625.6,809.7 619.7,811.2 613.8,811.0 C607.9,810.8 604.0,809.4 597.3,806.2 C590.6,803.0 581.5,796.7 573.6,792.0 C565.7,787.3 558.0,782.5 550.0,777.8 C542.0,773.1 533.4,768.3 525.4,763.6 C517.4,758.9 509.7,753.7 501.8,749.4 C493.9,745.1 488.1,741.5 478.2,737.6 C468.3,733.7 452.6,729.3 442.7,725.8 C432.8,722.2 426.9,720.6 419.0,716.3 C411.1,712.0 403.3,703.9 395.4,699.8 C387.5,695.7 381.6,693.1 371.8,691.5 C362.0,689.9 346.2,691.7 336.3,690.3 C326.4,688.9 322.5,685.6 312.7,683.3 C302.9,680.9 287.2,679.0 277.3,676.2 C267.4,673.4 260.7,669.9 253.6,666.7 C246.5,663.6 239.8,658.1 234.7,657.3 C229.6,656.5 227.2,659.8 222.9,662.0 C218.6,664.2 214.2,669.1 208.7,670.3 C203.2,671.5 196.9,669.6 189.8,669.0 C182.7,668.4 173.9,666.7 166.2,666.7 C158.5,666.7 149.2,670.2 143.7,669.0 C138.2,667.8 135.9,664.3 133.0,659.6 C130.1,654.9 128.3,647.0 126.0,640.7 C123.7,634.4 121.1,628.9 118.9,621.8 C116.7,614.7 114.4,606.1 113.0,598.2Z" fill="#2f638e"/><g clip-path="url(#bclip)"><path d="M90.0,340.0 C105.0,290.0 151.7,310.0 180.0,300.0 C208.3,290.0 235.0,290.0 260.0,280.0 C285.0,270.0 314.3,248.3 330.0,240.0 C345.7,231.7 351.3,228.7 354.0,230.0 C356.7,231.3 349.5,239.7 346.0,248.0 C342.5,256.3 346.5,271.7 333.0,280.0 C319.5,288.3 279.0,290.2 265.0,298.0 C251.0,305.8 252.5,318.7 249.0,327.0 C245.5,335.3 243.5,337.5 244.0,348.0 C244.5,358.5 247.7,374.2 252.0,390.0 C256.3,405.8 263.5,425.5 270.0,443.0 C276.5,460.5 285.3,482.0 291.0,495.0 C296.7,508.0 297.5,511.0 304.0,521.0 C310.5,531.0 330.7,541.8 330.0,555.0 C329.3,568.2 313.3,585.8 300.0,600.0 C286.7,614.2 266.7,627.5 250.0,640.0 C233.3,652.5 220.0,666.7 200.0,675.0 C180.0,683.3 148.3,702.5 130.0,690.0 C111.7,677.5 96.7,658.3 90.0,600.0 C83.3,541.7 75.0,390.0 90.0,340.0Z" fill="#34558a"/><path d="M120.0,560.0 C128.3,544.7 146.7,550.5 160.0,548.0 C173.3,545.5 186.7,545.0 200.0,545.0 C213.3,545.0 225.0,548.0 240.0,548.0 C255.0,548.0 276.7,545.0 290.0,545.0 C303.3,545.0 308.3,545.5 320.0,548.0 C331.7,550.5 346.7,554.7 360.0,560.0 C373.3,565.3 388.3,573.3 400.0,580.0 C411.7,586.7 424.5,591.0 430.0,600.0 C435.5,609.0 446.5,629.3 433.0,634.0 C419.5,638.7 373.5,628.0 349.0,628.0 C324.5,628.0 305.7,631.7 286.0,634.0 C266.3,636.3 245.3,635.7 231.0,642.0 C216.7,648.3 215.2,665.7 200.0,672.0 C184.8,678.3 155.0,685.3 140.0,680.0 C125.0,674.7 113.3,660.0 110.0,640.0 C106.7,620.0 111.7,575.3 120.0,560.0Z" fill="#38508a"/><path d="M354.0,232.0 C347.5,238.0 349.5,240.0 346.0,248.0 C342.5,256.0 346.5,271.7 333.0,280.0 C319.5,288.3 279.0,290.2 265.0,298.0 C251.0,305.8 252.5,318.7 249.0,327.0 C245.5,335.3 243.5,337.5 244.0,348.0 C244.5,358.5 247.7,374.2 252.0,390.0 C256.3,405.8 263.5,425.5 270.0,443.0 C276.5,460.5 285.3,482.0 291.0,495.0 C296.7,508.0 299.5,512.2 304.0,521.0 C308.5,529.8 312.8,543.5 318.0,548.0 C323.2,552.5 329.8,553.5 335.0,548.0 C340.2,542.5 346.7,526.0 349.0,515.0 C351.3,504.0 346.4,494.1 349.0,482.0 C351.6,469.9 361.1,453.6 364.6,442.6 C368.1,431.7 364.6,422.9 369.8,416.3 C375.0,409.7 386.0,407.4 396.0,403.0 C406.0,398.6 423.0,396.5 430.0,390.0 C437.0,383.5 438.4,374.3 438.0,363.8 C437.6,353.3 432.4,338.0 427.6,327.0 C422.8,316.0 412.9,309.4 409.0,298.0 C405.1,286.6 404.0,272.8 404.0,258.8 C404.0,244.8 412.2,221.8 409.0,214.0 C405.8,206.2 394.2,209.0 385.0,212.0 C375.8,215.0 360.5,226.0 354.0,232.0Z" fill="#3c3a81"/><path d="M432.0,360.0 C437.7,348.7 450.0,353.3 470.0,352.0 C490.0,350.7 527.8,351.0 552.0,352.0 C576.2,353.0 596.7,355.3 615.0,358.0 C633.3,360.7 647.8,364.3 662.0,368.0 C676.2,371.7 687.0,375.0 700.0,380.0 C713.0,385.0 726.7,391.3 740.0,398.0 C753.3,404.7 767.5,412.2 780.0,420.0 C792.5,427.8 805.0,435.8 815.0,445.0 C825.0,454.2 834.2,465.8 840.0,475.0 C845.8,484.2 856.7,499.2 850.0,500.0 C843.3,500.8 815.0,486.3 800.0,480.0 C785.0,473.7 773.2,467.8 760.0,462.0 C746.8,456.2 733.3,450.3 721.0,445.0 C708.7,439.7 705.2,435.2 686.0,430.0 C666.8,424.8 628.0,416.3 606.0,414.0 C584.0,411.7 571.3,414.7 554.0,416.0 C536.7,417.3 519.3,419.3 502.0,422.0 C484.7,424.7 461.0,432.3 450.0,432.0 C439.0,431.7 439.0,432.0 436.0,420.0 C433.0,408.0 426.3,371.3 432.0,360.0Z" fill="#375289"/><path d="M401.0,521.0 C400.2,508.5 403.7,498.7 405.0,490.0 C406.3,481.3 406.2,476.8 409.0,469.0 C411.8,461.2 415.2,449.2 422.0,443.0 C428.8,436.8 436.7,435.5 450.0,432.0 C463.3,428.5 484.7,424.7 502.0,422.0 C519.3,419.3 536.7,417.3 554.0,416.0 C571.3,414.7 584.0,413.0 606.0,414.0 C628.0,415.0 666.3,416.8 686.0,422.0 C705.7,427.2 710.8,436.2 724.0,445.0 C737.2,453.8 753.2,463.3 765.0,475.0 C776.8,486.7 789.2,502.5 795.0,515.0 C800.8,527.5 800.8,538.8 800.0,550.0 C799.2,561.2 796.7,575.0 790.0,582.0 C783.3,589.0 768.7,591.3 760.0,592.0 C751.3,592.7 743.3,592.2 738.0,586.0 C732.7,579.8 731.3,566.0 728.0,555.0 C724.7,544.0 722.7,529.5 718.0,520.0 C713.3,510.5 708.0,505.0 700.0,498.0 C692.0,491.0 681.3,483.5 670.0,478.0 C658.7,472.5 647.0,467.0 632.0,465.0 C617.0,463.0 597.5,463.8 580.0,466.0 C562.5,468.2 544.5,473.7 527.0,478.0 C509.5,482.3 488.7,485.0 475.0,492.0 C461.3,499.0 452.5,508.7 445.0,520.0 C437.5,531.3 435.8,552.5 430.0,560.0 C424.2,567.5 414.8,571.5 410.0,565.0 C405.2,558.5 401.8,533.5 401.0,521.0Z" fill="#3d4080"/><path d="M688.0,652.0 C691.3,647.0 709.0,650.8 720.0,650.0 C731.0,649.2 742.3,649.0 754.0,647.0 C765.7,645.0 779.2,641.5 790.0,638.0 C800.8,634.5 810.7,631.5 819.0,626.0 C827.3,620.5 834.3,612.8 840.0,605.0 C845.7,597.2 846.3,584.0 853.0,579.0 C859.7,574.0 867.2,574.8 880.0,575.0 C892.8,575.2 915.3,577.5 930.0,580.0 C944.7,582.5 958.8,580.0 968.0,590.0 C977.2,600.0 984.7,623.3 985.0,640.0 C985.3,656.7 978.3,678.3 970.0,690.0 C961.7,701.7 946.7,705.8 935.0,710.0 C923.3,714.2 912.5,713.0 900.0,715.0 C887.5,717.0 875.0,719.5 860.0,722.0 C845.0,724.5 825.0,729.0 810.0,730.0 C795.0,731.0 780.8,729.7 770.0,728.0 C759.2,726.3 751.7,723.8 745.0,720.0 C738.3,716.2 737.5,711.7 730.0,705.0 C722.5,698.3 707.0,688.8 700.0,680.0 C693.0,671.2 684.7,657.0 688.0,652.0Z" fill="#3b4c88"/><path d="M930.0,584.0 C936.2,577.3 967.0,583.2 975.0,590.0 C983.0,596.8 979.2,615.0 978.0,625.0 C976.8,635.0 972.7,645.0 968.0,650.0 C963.3,655.0 955.0,658.3 950.0,655.0 C945.0,651.7 941.3,641.8 938.0,630.0 C934.7,618.2 923.8,590.7 930.0,584.0Z" fill="#453a80"/><path d="M270.0,548.0 C280.0,541.3 303.3,554.3 320.0,560.0 C336.7,565.7 351.2,569.7 370.0,582.0 C388.8,594.3 412.0,620.0 433.0,634.0 C454.0,648.0 475.0,655.3 496.0,666.0 C517.0,676.7 538.0,685.7 559.0,698.0 C580.0,710.3 604.5,727.8 622.0,740.0 C639.5,752.2 654.7,761.8 664.0,771.0 C673.3,780.2 678.7,789.2 678.0,795.0 C677.3,800.8 667.5,806.5 660.0,806.0 C652.5,805.5 644.5,799.5 633.0,792.0 C621.5,784.5 606.8,771.5 591.0,761.0 C575.2,750.5 553.8,737.8 538.0,729.0 C522.2,720.2 510.0,718.5 496.0,708.0 C482.0,697.5 468.0,677.2 454.0,666.0 C440.0,654.8 429.5,647.3 412.0,641.0 C394.5,634.7 370.0,629.2 349.0,628.0 C328.0,626.8 300.8,638.7 286.0,634.0 C271.2,629.3 262.7,614.3 260.0,600.0 C257.3,585.7 260.0,554.7 270.0,548.0Z" fill="#3d4888"/><path d="M440.0,640.0 C447.0,638.3 476.2,656.3 496.0,666.0 C515.8,675.7 538.0,685.7 559.0,698.0 C580.0,710.3 604.5,727.8 622.0,740.0 C639.5,752.2 654.7,761.8 664.0,771.0 C673.3,780.2 678.7,789.2 678.0,795.0 C677.3,800.8 667.5,806.5 660.0,806.0 C652.5,805.5 644.5,799.5 633.0,792.0 C621.5,784.5 606.8,771.5 591.0,761.0 C575.2,750.5 553.8,737.8 538.0,729.0 C522.2,720.2 510.0,716.8 496.0,708.0 C482.0,699.2 463.3,687.3 454.0,676.0 C444.7,664.7 433.0,641.7 440.0,640.0Z" fill="#423f85"/><path d="M405.0,192.0 C406.3,187.8 421.5,187.0 430.0,186.0 C438.5,185.0 449.2,185.3 456.0,186.0 C462.8,186.7 467.0,187.7 471.0,190.0 C475.0,192.3 481.0,196.5 480.0,200.0 C479.0,203.5 470.2,207.2 465.0,211.0 C459.8,214.8 453.8,221.2 449.0,223.0 C444.2,224.8 440.5,224.0 436.0,222.0 C431.5,220.0 427.2,216.0 422.0,211.0 C416.8,206.0 403.7,196.2 405.0,192.0Z" fill="#1e8e84"/><path d="M652.0,675.0 C654.5,672.8 667.0,675.5 675.0,677.0 C683.0,678.5 692.8,681.2 700.0,684.0 C707.2,686.8 712.7,690.0 718.0,694.0 C723.3,698.0 728.3,703.3 732.0,708.0 C735.7,712.7 739.0,717.3 740.0,722.0 C741.0,726.7 741.3,735.0 738.0,736.0 C734.7,737.0 726.3,732.0 720.0,728.0 C713.7,724.0 706.7,716.7 700.0,712.0 C693.3,707.3 686.7,703.7 680.0,700.0 C673.3,696.3 664.7,694.2 660.0,690.0 C655.3,685.8 649.5,677.2 652.0,675.0Z" fill="#21928a"/><path d="M133.0,540.0 L150.0,539.5 L164.0,541.0 L175.0,542.5 L183.0,539.0 L192.0,533.0 L201.0,528.0 L215.0,519.0 L226.0,517.0 L246.0,516.0 L265.0,512.5 L289.0,510.0 L300.5,512.0 L304.0,544.0 L278.0,543.5 L241.0,546.3 L232.5,550.8 L223.5,560.0 L214.0,574.5 L203.5,581.5 L189.0,584.2 L180.5,589.0 L171.5,603.0 L161.0,618.0 L150.5,607.0 L142.5,587.0 L136.0,558.0Z" fill="#b9b34a"/><path d="M136.0,542.5 L150.0,542.0 L164.0,543.6 L175.0,545.0 L183.0,541.7 L193.0,536.0 L202.0,531.0 L216.0,522.0 L226.0,520.0 L246.0,519.0 L265.0,515.5 L289.0,513.0 L298.5,515.0 L301.5,541.7 L278.0,540.8 L240.0,543.6 L230.5,548.4 L221.0,557.8 L211.6,572.0 L202.0,578.6 L188.0,581.4 L178.5,586.2 L169.0,600.3 L159.6,614.5 L153.0,605.0 L145.5,586.0 L139.0,558.0Z" fill="#dccb2e"/><path d="M404.0,472.0 C407.7,468.3 411.8,457.0 426.0,450.0 C440.2,443.0 462.8,435.0 489.0,430.0 C515.2,425.0 554.2,421.7 583.0,420.0 C611.8,418.3 635.7,415.5 662.0,420.0 C688.3,424.5 717.3,437.0 741.0,447.0 C764.7,457.0 788.2,470.2 804.0,480.0 C819.8,489.8 830.7,501.7 836.0,506.0" fill="none" stroke="#1d3f66" stroke-opacity="0.45" stroke-width="2"/><path d="M467.0,510.0 C475.8,504.2 495.3,483.2 520.0,475.0 C544.7,466.8 586.7,459.3 615.0,461.0 C643.3,462.7 671.7,477.7 690.0,485.0 C708.3,492.3 719.2,501.7 725.0,505.0" fill="none" stroke="#1d3f66" stroke-opacity="0.45" stroke-width="2"/><path d="M435.0,560.0 C439.2,565.7 450.2,583.0 460.0,594.0 C469.8,605.0 484.2,615.5 494.0,626.0 C503.8,636.5 509.7,647.5 519.0,657.0 C528.3,666.5 539.5,675.8 550.0,683.0 C560.5,690.2 574.8,695.5 582.0,700.0 C589.2,704.5 591.2,708.3 593.0,710.0" fill="none" stroke="#1d3f66" stroke-opacity="0.45" stroke-width="2"/><path d="M640.0,690.0 C644.7,691.7 659.7,695.8 668.0,700.0 C676.3,704.2 683.8,709.2 690.0,715.0 C696.2,720.8 702.5,731.7 705.0,735.0" fill="none" stroke="#1d3f66" stroke-opacity="0.45" stroke-width="2"/><path d="M409.0,214.0 C408.2,221.5 404.0,244.8 404.0,258.8 C404.0,272.8 405.1,286.6 409.0,298.0 C412.9,309.4 422.8,316.0 427.6,327.0 C432.4,338.0 437.6,353.3 438.0,363.8 C438.4,374.3 431.3,385.6 430.0,390.0" fill="none" stroke="#1d3f66" stroke-opacity="0.45" stroke-width="2"/><path d="M845.0,500.0 C846.3,513.2 857.3,558.0 853.0,579.0 C848.7,600.0 835.5,614.7 819.0,626.0 C802.5,637.3 775.8,642.7 754.0,647.0 C732.2,651.3 699.0,651.2 688.0,652.0" fill="none" stroke="#1d3f66" stroke-opacity="0.45" stroke-width="2"/><path d="M411.7,221.0 C410.9,226.2 406.8,241.2 406.8,252.5 C406.8,263.8 408.5,276.6 411.7,288.7 C414.9,300.8 420.4,314.1 426.0,325.0 C431.6,335.9 442.2,349.2 445.5,354.0" fill="none" stroke="#1d3f66" stroke-opacity="0.45" stroke-width="2"/><path d="M346.4,238.0 C346.0,243.6 342.8,260.5 344.0,271.8 C345.2,283.1 350.1,294.7 353.7,305.6 C357.3,316.5 363.8,331.8 365.8,337.0" fill="none" stroke="#1d3f66" stroke-opacity="0.45" stroke-width="2"/><path d="M242.5,349.0 C244.9,353.0 251.8,362.9 257.0,373.0 C262.2,383.1 268.0,397.4 274.0,409.5 C280.0,421.6 287.8,433.7 293.0,445.8 C298.2,457.9 302.5,472.0 305.0,482.0 C307.5,492.0 307.3,502.0 307.8,506.0" fill="none" stroke="#1d3f66" stroke-opacity="0.45" stroke-width="2"/><path d="M204.0,385.0 C208.8,389.1 225.4,399.4 233.0,409.5 C240.6,419.6 243.0,433.7 249.8,445.8 C256.6,457.9 266.8,472.8 274.0,482.0 C281.2,491.2 289.8,497.8 293.0,501.0" fill="none" stroke="#1d3f66" stroke-opacity="0.45" stroke-width="2"/><path d="M365.8,433.7 C367.8,431.7 371.9,425.2 377.9,421.6 C383.9,418.0 394.0,412.0 402.0,412.0 C410.0,412.0 422.0,420.0 426.0,421.6" fill="none" stroke="#1d3f66" stroke-opacity="0.45" stroke-width="2"/><path d="M160.0,440.0 C163.3,445.0 172.5,459.2 180.0,470.0 C187.5,480.8 198.0,496.7 205.0,505.0 C212.0,513.3 219.2,517.5 222.0,520.0" fill="none" stroke="#1d3f66" stroke-opacity="0.45" stroke-width="2"/></g><path d="M113.0,598.2 C111.6,590.3 110.4,583.2 110.6,574.5 C110.8,565.8 112.4,556.0 114.2,546.2 C116.0,536.4 118.5,524.0 121.3,515.5 C124.0,507.0 127.2,502.9 130.7,495.0 C134.2,487.1 137.4,477.9 142.5,467.8 C147.6,457.8 155.6,443.8 161.5,434.7 C167.4,425.6 173.5,419.7 178.0,413.4 C182.5,407.1 186.2,402.4 188.6,396.9 C191.0,391.4 189.6,385.1 192.2,380.4 C194.8,375.7 198.9,373.6 204.0,368.5 C209.1,363.4 217.4,354.3 222.9,349.6 C228.4,344.9 232.3,344.9 237.0,340.2 C241.7,335.5 246.6,327.6 251.3,321.3 C256.0,315.0 260.7,310.3 265.4,302.4 C270.1,294.5 274.9,281.1 279.6,274.0 C284.3,266.9 288.3,263.7 293.8,259.8 C299.3,255.9 305.6,253.8 312.7,250.4 C319.8,247.1 330.0,242.1 336.3,239.7 C342.6,237.3 346.6,239.1 350.5,236.2 C354.4,233.2 356.1,225.9 360.0,222.0 C363.9,218.1 367.1,216.4 374.2,212.5 C381.3,208.6 393.1,202.5 402.5,198.4 C411.9,194.3 423.8,189.7 430.9,187.7 C438.0,185.7 439.5,185.9 445.0,186.5 C450.5,187.1 458.5,188.7 464.0,191.3 C469.5,193.9 474.3,200.9 478.2,201.9 C482.1,202.9 482.9,199.2 487.6,197.2 C492.3,195.2 500.2,191.2 506.5,190.0 C512.8,188.8 518.1,188.8 525.4,190.0 C532.6,191.2 542.0,193.8 550.0,197.5 C558.0,201.2 561.0,210.0 573.6,212.5 C586.2,215.0 612.6,211.3 625.6,212.5 C638.6,213.7 640.6,216.2 651.6,219.6 C662.6,222.9 678.9,227.3 691.8,232.6 C704.7,237.9 720.1,247.0 729.0,251.6 C737.9,256.2 738.8,256.0 745.0,260.0 C751.2,264.0 757.2,270.4 766.0,275.7 C774.8,280.9 788.0,286.2 797.6,291.5 C807.2,296.8 815.8,302.2 823.8,307.2 C831.8,312.2 835.9,313.4 845.4,321.3 C854.9,329.2 870.0,343.4 881.0,354.4 C892.0,365.4 903.0,376.4 911.6,387.4 C920.2,398.4 926.2,408.3 932.9,420.5 C939.6,432.7 946.7,450.8 951.8,460.7 C956.9,470.6 960.5,472.9 963.6,480.0 C966.8,487.1 969.1,495.7 970.7,503.6 C972.3,511.5 973.4,520.2 973.0,527.3 C972.6,534.4 969.5,539.5 968.3,546.2 C967.1,552.9 966.0,562.0 966.0,567.5 C966.0,573.0 967.5,575.0 968.3,579.3 C969.1,583.6 970.7,589.5 970.7,593.4 C970.7,597.3 969.9,598.2 968.3,602.9 C966.7,607.6 964.4,613.9 961.2,621.8 C958.1,629.7 953.3,641.1 949.4,650.2 C945.5,659.3 942.7,668.3 937.6,676.2 C932.5,684.1 925.0,692.3 918.7,697.4 C912.4,702.5 906.1,705.0 899.8,707.0 C893.5,709.0 890.1,707.8 881.0,709.3 C871.9,710.8 857.2,713.9 845.4,716.3 C833.6,718.6 821.8,722.6 810.0,723.4 C798.2,724.2 785.1,722.6 774.5,721.0 C763.9,719.4 752.1,714.8 746.2,714.0 C740.3,713.2 739.8,713.5 739.0,716.3 C738.2,719.0 741.4,726.5 741.4,730.5 C741.4,734.5 740.6,735.3 739.0,740.0 C737.4,744.7 735.9,753.0 732.0,758.9 C728.1,764.8 722.1,770.7 715.4,775.4 C708.7,780.1 701.6,783.8 691.8,787.3 C682.0,790.8 666.2,793.4 656.4,796.7 C646.5,800.0 639.8,804.9 632.7,807.3 C625.6,809.7 619.7,811.2 613.8,811.0 C607.9,810.8 604.0,809.4 597.3,806.2 C590.6,803.0 581.5,796.7 573.6,792.0 C565.7,787.3 558.0,782.5 550.0,777.8 C542.0,773.1 533.4,768.3 525.4,763.6 C517.4,758.9 509.7,753.7 501.8,749.4 C493.9,745.1 488.1,741.5 478.2,737.6 C468.3,733.7 452.6,729.3 442.7,725.8 C432.8,722.2 426.9,720.6 419.0,716.3 C411.1,712.0 403.3,703.9 395.4,699.8 C387.5,695.7 381.6,693.1 371.8,691.5 C362.0,689.9 346.2,691.7 336.3,690.3 C326.4,688.9 322.5,685.6 312.7,683.3 C302.9,680.9 287.2,679.0 277.3,676.2 C267.4,673.4 260.7,669.9 253.6,666.7 C246.5,663.6 239.8,658.1 234.7,657.3 C229.6,656.5 227.2,659.8 222.9,662.0 C218.6,664.2 214.2,669.1 208.7,670.3 C203.2,671.5 196.9,669.6 189.8,669.0 C182.7,668.4 173.9,666.7 166.2,666.7 C158.5,666.7 149.2,670.2 143.7,669.0 C138.2,667.8 135.9,664.3 133.0,659.6 C130.1,654.9 128.3,647.0 126.0,640.7 C123.7,634.4 121.1,628.9 118.9,621.8 C116.7,614.7 114.4,606.1 113.0,598.2Z" fill="none" stroke="#1c3560" stroke-width="1.8" stroke-opacity="0.85"/></g></g><rect x="208.3" y="873.0" width="671.2" height="74.5" fill="url(#vr)" stroke="#000" stroke-width="1.6"/><line x1="209.2" y1="947.5" x2="209.2" y2="958.0" stroke="#000" stroke-width="1.6"/><line x1="292.7" y1="947.5" x2="292.7" y2="958.0" stroke="#000" stroke-width="1.6"/><line x1="376.2" y1="947.5" x2="376.2" y2="958.0" stroke="#000" stroke-width="1.6"/><line x1="459.7" y1="947.5" x2="459.7" y2="958.0" stroke="#000" stroke-width="1.6"/><line x1="543.2" y1="947.5" x2="543.2" y2="958.0" stroke="#000" stroke-width="1.6"/><line x1="626.7" y1="947.5" x2="626.7" y2="958.0" stroke="#000" stroke-width="1.6"/><line x1="710.2" y1="947.5" x2="710.2" y2="958.0" stroke="#000" stroke-width="1.6"/><line x1="793.7" y1="947.5" x2="793.7" y2="958.0" stroke="#000" stroke-width="1.6"/><line x1="877.2" y1="947.5" x2="877.2" y2="958.0" stroke="#000" stroke-width="1.6"/><text class="dj" x="206.2" y="985.7" font-size="29.2" text-anchor="middle" textLength="78.0" lengthAdjust="spacingAndGlyphs">−0.20</text><text class="dj" x="289.7" y="985.7" font-size="29.2" text-anchor="middle" textLength="78.0" lengthAdjust="spacingAndGlyphs">−0.15</text><text class="dj" x="373.2" y="985.7" font-size="29.2" text-anchor="middle" textLength="78.0" lengthAdjust="spacingAndGlyphs">−0.10</text><text class="dj" x="456.7" y="985.7" font-size="29.2" text-anchor="middle" textLength="78.0" lengthAdjust="spacingAndGlyphs">−0.05</text><text class="dj" x="543.2" y="985.7" font-size="29.2" text-anchor="middle" textLength="56.0" lengthAdjust="spacingAndGlyphs">0.00</text><text class="dj" x="626.7" y="985.7" font-size="29.2" text-anchor="middle" textLength="56.0" lengthAdjust="spacingAndGlyphs">0.05</text><text class="dj" x="710.2" y="985.7" font-size="29.2" text-anchor="middle" textLength="56.0" lengthAdjust="spacingAndGlyphs">0.10</text><text class="dj" x="793.7" y="985.7" font-size="29.2" text-anchor="middle" textLength="56.0" lengthAdjust="spacingAndGlyphs">0.15</text><text class="dj" x="877.2" y="985.7" font-size="29.2" text-anchor="middle" textLength="56.0" lengthAdjust="spacingAndGlyphs">0.20</text><rect x="1222.5" y="873.0" width="670.1" height="75.3" fill="url(#vr)" stroke="#000" stroke-width="1.6"/><line x1="1287.6" y1="948.3" x2="1287.6" y2="958.8" stroke="#000" stroke-width="1.6"/><line x1="1421.8" y1="948.3" x2="1421.8" y2="958.8" stroke="#000" stroke-width="1.6"/><line x1="1556.1" y1="948.3" x2="1556.1" y2="958.8" stroke="#000" stroke-width="1.6"/><line x1="1690.3" y1="948.3" x2="1690.3" y2="958.8" stroke="#000" stroke-width="1.6"/><line x1="1824.6" y1="948.3" x2="1824.6" y2="958.8" stroke="#000" stroke-width="1.6"/><text class="dj" x="1287.6" y="985.7" font-size="29.2" text-anchor="middle" textLength="91.0" lengthAdjust="spacingAndGlyphs">−0.004</text><text class="dj" x="1421.8" y="985.7" font-size="29.2" text-anchor="middle" textLength="91.0" lengthAdjust="spacingAndGlyphs">−0.002</text><text class="dj" x="1556.1" y="985.7" font-size="29.2" text-anchor="middle" textLength="70.0" lengthAdjust="spacingAndGlyphs">0.000</text><text class="dj" x="1690.3" y="985.7" font-size="29.2" text-anchor="middle" textLength="70.0" lengthAdjust="spacingAndGlyphs">0.002</text><text class="dj" x="1824.6" y="985.7" font-size="29.2" text-anchor="middle" textLength="70.0" lengthAdjust="spacingAndGlyphs">0.004</text><text class="dj" x="408.8" y="1051" font-size="62" textLength="305" lengthAdjust="spacingAndGlyphs">Δ<tspan class="djo">P</tspan><tspan class="djo" font-size="43" dy="11">α</tspan><tspan dy="-11">(</tspan><tspan class="djo">a.&#8201;u.&#8201;</tspan>)</text><text class="dj" x="1434.8" y="1054" font-size="62" textLength="281" lengthAdjust="spacingAndGlyphs">Δ<tspan class="djo">P</tspan><tspan class="djo" font-size="43" dy="11">γ</tspan><tspan dy="-11">(a.u.)</tspan></text><g><text class="dj" x="1064.8" y="1214.9" font-size="47.25" text-anchor="middle">Power spectrum under focal lo modulation</text><g clip-path="url(#axclip)" fill="none" stroke="#000" stroke-width="3.6" stroke-linejoin="round"><polyline stroke-opacity="0.16" points="406.7,1479.7 436.6,1470.0 466.6,1470.0 496.5,1465.1 526.4,1454.1 556.4,1438.9 586.3,1395.0 616.3,1271.0 646.2,1357.2 676.2,1424.9 706.1,1461.6 736.0,1477.1 766.0,1481.0 795.9,1470.6 825.9,1444.0 855.8,1421.0 885.7,1313.2 915.7,1352.7 945.6,1409.2 975.6,1448.5 1005.5,1450.4 1035.4,1472.9 1065.4,1492.0 1095.3,1503.0 1125.3,1507.6 1155.2,1432.0 1185.1,1376.0 1215.1,1455.0 1245.0,1476.0 1275.0,1488.0 1304.9,1500.1 1334.9,1502.6 1364.8,1505.1 1394.7,1502.0 1424.7,1497.0 1454.6,1465.9 1484.6,1525.9 1514.5,1531.6 1544.4,1534.0 1574.4,1530.0 1604.3,1531.6 1634.3,1525.0 1664.2,1521.5 1694.1,1500.4 1724.1,1408.6"/><polyline stroke-opacity="0.16" points="406.7,1478.0 436.6,1471.6 466.6,1470.1 496.5,1466.0 526.4,1453.0 556.4,1437.0 586.3,1395.4 616.3,1268.0 646.2,1361.2 676.2,1422.7 706.1,1460.0 736.0,1477.4 766.0,1481.5 795.9,1470.0 825.9,1445.1 855.8,1422.2 885.7,1326.6 915.7,1346.4 945.6,1410.1 975.6,1449.9 1005.5,1452.9 1035.4,1474.6 1065.4,1493.5 1095.3,1505.0 1125.3,1512.0 1155.2,1432.4 1185.1,1382.2 1215.1,1457.2 1245.0,1479.9 1275.0,1490.6 1304.9,1495.0 1334.9,1503.5 1364.8,1507.0 1394.7,1502.6 1424.7,1498.3 1454.6,1466.8 1484.6,1525.0 1514.5,1530.3 1544.4,1533.9 1574.4,1531.8 1604.3,1531.4 1634.3,1525.6 1664.2,1521.5 1694.1,1500.0 1724.1,1414.2"/><polyline stroke-opacity="0.16" points="406.7,1478.0 436.6,1470.1 466.6,1471.8 496.5,1467.5 526.4,1457.3 556.4,1437.0 586.3,1396.1 616.3,1268.3 646.2,1356.0 676.2,1425.0 706.1,1464.8 736.0,1479.1 766.0,1481.0 795.9,1468.6 825.9,1445.2 855.8,1425.4 885.7,1317.0 915.7,1347.2 945.6,1410.5 975.6,1448.0 1005.5,1452.0 1035.4,1475.8 1065.4,1494.4 1095.3,1503.6 1125.3,1508.7 1155.2,1443.6 1185.1,1376.0 1215.1,1456.9 1245.0,1485.0 1275.0,1490.1 1304.9,1496.6 1334.9,1501.1 1364.8,1506.9 1394.7,1503.6 1424.7,1498.4 1454.6,1465.3 1484.6,1526.8 1514.5,1531.5 1544.4,1535.0 1574.4,1533.7 1604.3,1530.0 1634.3,1525.2 1664.2,1519.0 1694.1,1501.3 1724.1,1411.7"/><polyline stroke-opacity="0.16" points="406.7,1481.5 436.6,1470.3 466.6,1471.8 496.5,1466.6 526.4,1453.4 556.4,1437.2 586.3,1396.0 616.3,1270.6 646.2,1358.0 676.2,1422.0 706.1,1460.8 736.0,1479.5 766.0,1481.0 795.9,1468.5 825.9,1444.0 855.8,1423.3 885.7,1337.5 915.7,1329.8 945.6,1408.0 975.6,1450.5 1005.5,1454.5 1035.4,1472.1 1065.4,1492.8 1095.3,1502.8 1125.3,1505.0 1155.2,1433.7 1185.1,1378.8 1215.1,1465.2 1245.0,1478.6 1275.0,1489.8 1304.9,1495.0 1334.9,1501.1 1364.8,1505.0 1394.7,1502.0 1424.7,1499.0 1454.6,1473.2 1484.6,1526.7 1514.5,1532.1 1544.4,1534.5 1574.4,1530.3 1604.3,1531.4 1634.3,1525.9 1664.2,1519.0 1694.1,1500.0 1724.1,1408.0"/><polyline stroke-opacity="0.16" points="406.7,1479.4 436.6,1474.8 466.6,1472.4 496.5,1468.3 526.4,1457.5 556.4,1437.9 586.3,1395.0 616.3,1268.0 646.2,1361.4 676.2,1425.0 706.1,1463.5 736.0,1479.3 766.0,1481.0 795.9,1470.1 825.9,1444.8 855.8,1421.8 885.7,1312.3 915.7,1353.2 945.6,1411.6 975.6,1448.2 1005.5,1455.3 1035.4,1474.8 1065.4,1497.0 1095.3,1508.1 1125.3,1509.2 1155.2,1442.8 1185.1,1379.2 1215.1,1456.8 1245.0,1480.1 1275.0,1493.8 1304.9,1495.0 1334.9,1501.3 1364.8,1506.4 1394.7,1505.4 1424.7,1499.1 1454.6,1474.8 1484.6,1526.7 1514.5,1530.6 1544.4,1534.2 1574.4,1531.7 1604.3,1531.5 1634.3,1527.9 1664.2,1522.2 1694.1,1508.2 1724.1,1416.8"/><polyline stroke-opacity="0.16" points="406.7,1482.6 436.6,1473.7 466.6,1470.6 496.5,1468.6 526.4,1454.2 556.4,1437.4 586.3,1398.6 616.3,1271.1 646.2,1361.6 676.2,1425.1 706.1,1462.7 736.0,1477.2 766.0,1482.3 795.9,1470.0 825.9,1446.5 855.8,1422.1 885.7,1329.9 915.7,1335.9 945.6,1408.6 975.6,1451.7 1005.5,1455.1 1035.4,1475.6 1065.4,1500.2 1095.3,1504.8 1125.3,1513.0 1155.2,1445.1 1185.1,1376.0 1215.1,1457.7 1245.0,1483.5 1275.0,1494.1 1304.9,1495.7 1334.9,1503.5 1364.8,1506.2 1394.7,1503.4 1424.7,1498.4 1454.6,1469.7 1484.6,1525.0 1514.5,1530.7 1544.4,1533.6 1574.4,1532.6 1604.3,1534.8 1634.3,1531.0 1664.2,1521.0 1694.1,1500.1 1724.1,1414.9"/><polyline stroke-opacity="0.16" points="406.7,1482.0 436.6,1472.3 466.6,1474.6 496.5,1469.3 526.4,1453.8 556.4,1439.4 586.3,1397.1 616.3,1270.6 646.2,1359.5 676.2,1425.9 706.1,1462.2 736.0,1478.3 766.0,1483.3 795.9,1470.4 825.9,1446.6 855.8,1421.6 885.7,1344.6 915.7,1321.0 945.6,1408.0 975.6,1450.9 1005.5,1456.6 1035.4,1477.9 1065.4,1495.3 1095.3,1507.0 1125.3,1511.1 1155.2,1435.6 1185.1,1376.7 1215.1,1459.3 1245.0,1481.1 1275.0,1489.4 1304.9,1499.8 1334.9,1503.3 1364.8,1506.6 1394.7,1505.7 1424.7,1497.0 1454.6,1467.7 1484.6,1526.7 1514.5,1532.3 1544.4,1536.8 1574.4,1530.9 1604.3,1532.6 1634.3,1531.3 1664.2,1522.6 1694.1,1502.8 1724.1,1418.4"/><polyline stroke-opacity="0.16" points="406.7,1479.6 436.6,1474.5 466.6,1475.6 496.5,1470.1 526.4,1453.8 556.4,1442.8 586.3,1398.7 616.3,1268.4 646.2,1361.3 676.2,1423.6 706.1,1464.9 736.0,1480.8 766.0,1482.2 795.9,1470.3 825.9,1447.2 855.8,1422.2 885.7,1312.0 915.7,1352.7 945.6,1412.4 975.6,1452.3 1005.5,1455.5 1035.4,1476.2 1065.4,1496.5 1095.3,1511.5 1125.3,1517.4 1155.2,1450.4 1185.1,1380.4 1215.1,1463.7 1245.0,1485.2 1275.0,1491.1 1304.9,1498.4 1334.9,1502.3 1364.8,1508.1 1394.7,1504.0 1424.7,1499.9 1454.6,1475.0 1484.6,1528.6 1514.5,1531.7 1544.4,1534.9 1574.4,1534.0 1604.3,1531.9 1634.3,1529.1 1664.2,1521.9 1694.1,1506.2 1724.1,1412.0"/><polyline stroke-opacity="0.16" points="406.7,1481.1 436.6,1478.5 466.6,1475.5 496.5,1475.7 526.4,1458.7 556.4,1440.9 586.3,1398.4 616.3,1270.7 646.2,1362.8 676.2,1427.9 706.1,1463.0 736.0,1480.3 766.0,1482.6 795.9,1469.7 825.9,1447.9 855.8,1425.6 885.7,1337.4 915.7,1329.3 945.6,1414.0 975.6,1452.9 1005.5,1457.3 1035.4,1476.2 1065.4,1499.0 1095.3,1508.1 1125.3,1515.8 1155.2,1448.3 1185.1,1379.0 1215.1,1460.6 1245.0,1484.1 1275.0,1494.7 1304.9,1499.9 1334.9,1504.4 1364.8,1509.4 1394.7,1507.3 1424.7,1500.3 1454.6,1475.9 1484.6,1527.9 1514.5,1533.7 1544.4,1536.1 1574.4,1533.6 1604.3,1532.6 1634.3,1527.4 1664.2,1523.6 1694.1,1504.4 1724.1,1426.3"/><polyline stroke-opacity="0.16" points="406.7,1483.0 436.6,1474.2 466.6,1472.1 496.5,1470.7 526.4,1457.2 556.4,1442.1 586.3,1399.0 616.3,1279.3 646.2,1362.4 676.2,1427.9 706.1,1462.2 736.0,1481.2 766.0,1482.2 795.9,1469.8 825.9,1447.8 855.8,1421.2 885.7,1343.0 915.7,1335.6 945.6,1412.6 975.6,1449.7 1005.5,1458.2 1035.4,1476.9 1065.4,1503.9 1095.3,1506.5 1125.3,1512.7 1155.2,1439.2 1185.1,1376.0 1215.1,1464.8 1245.0,1483.4 1275.0,1492.8 1304.9,1500.6 1334.9,1504.9 1364.8,1507.8 1394.7,1504.1 1424.7,1499.3 1454.6,1475.9 1484.6,1529.9 1514.5,1532.3 1544.4,1535.6 1574.4,1532.7 1604.3,1532.4 1634.3,1527.7 1664.2,1523.0 1694.1,1511.1 1724.1,1423.5"/><polyline stroke-opacity="0.16" points="406.7,1483.7 436.6,1476.0 466.6,1473.5 496.5,1469.1 526.4,1459.0 556.4,1443.9 586.3,1399.7 616.3,1270.1 646.2,1363.7 676.2,1428.0 706.1,1468.3 736.0,1479.6 766.0,1483.0 795.9,1472.7 825.9,1447.4 855.8,1427.3 885.7,1343.2 915.7,1330.7 945.6,1413.6 975.6,1452.3 1005.5,1459.9 1035.4,1479.9 1065.4,1499.6 1095.3,1511.4 1125.3,1512.0 1155.2,1450.5 1185.1,1381.2 1215.1,1463.3 1245.0,1487.8 1275.0,1493.6 1304.9,1499.3 1334.9,1504.1 1364.8,1509.6 1394.7,1504.8 1424.7,1500.8 1454.6,1476.3 1484.6,1527.5 1514.5,1534.0 1544.4,1537.2 1574.4,1534.8 1604.3,1534.7 1634.3,1529.8 1664.2,1522.6 1694.1,1512.2 1724.1,1421.3"/><polyline stroke-opacity="0.16" points="406.7,1484.1 436.6,1476.0 466.6,1476.8 496.5,1470.1 526.4,1454.7 556.4,1443.1 586.3,1399.2 616.3,1277.5 646.2,1362.1 676.2,1423.6 706.1,1466.1 736.0,1481.5 766.0,1482.5 795.9,1472.6 825.9,1448.7 855.8,1424.8 885.7,1308.4 915.7,1355.9 945.6,1411.6 975.6,1453.5 1005.5,1457.1 1035.4,1481.2 1065.4,1499.1 1095.3,1510.1 1125.3,1517.4 1155.2,1444.7 1185.1,1378.5 1215.1,1467.0 1245.0,1484.4 1275.0,1498.6 1304.9,1502.2 1334.9,1505.0 1364.8,1507.1 1394.7,1505.2 1424.7,1502.0 1454.6,1475.6 1484.6,1527.3 1514.5,1532.3 1544.4,1536.4 1574.4,1534.3 1604.3,1533.8 1634.3,1529.9 1664.2,1528.2 1694.1,1513.6 1724.1,1421.7"/><polyline stroke-opacity="0.16" points="406.7,1483.8 436.6,1478.6 466.6,1475.5 496.5,1471.1 526.4,1459.2 556.4,1442.9 586.3,1400.9 616.3,1268.0 646.2,1363.1 676.2,1427.4 706.1,1467.0 736.0,1481.5 766.0,1484.1 795.9,1471.8 825.9,1446.1 855.8,1426.6 885.7,1343.2 915.7,1325.3 945.6,1414.6 975.6,1454.6 1005.5,1459.5 1035.4,1485.8 1065.4,1499.8 1095.3,1515.0 1125.3,1520.6 1155.2,1452.3 1185.1,1377.4 1215.1,1471.5 1245.0,1485.9 1275.0,1495.4 1304.9,1501.2 1334.9,1505.4 1364.8,1508.4 1394.7,1507.1 1424.7,1502.4 1454.6,1473.3 1484.6,1528.8 1514.5,1533.2 1544.4,1539.6 1574.4,1535.4 1604.3,1535.4 1634.3,1530.1 1664.2,1524.2 1694.1,1508.7 1724.1,1436.6"/><polyline stroke-opacity="0.16" points="406.7,1485.7 436.6,1479.0 466.6,1476.6 496.5,1471.0 526.4,1462.7 556.4,1445.4 586.3,1397.8 616.3,1280.6 646.2,1363.4 676.2,1426.9 706.1,1467.6 736.0,1481.5 766.0,1484.4 795.9,1470.6 825.9,1450.0 855.8,1427.5 885.7,1322.6 915.7,1347.1 945.6,1413.9 975.6,1454.8 1005.5,1462.1 1035.4,1485.7 1065.4,1504.6 1095.3,1510.6 1125.3,1521.7 1155.2,1449.8 1185.1,1383.8 1215.1,1472.2 1245.0,1487.4 1275.0,1499.5 1304.9,1501.7 1334.9,1504.1 1364.8,1508.9 1394.7,1508.0 1424.7,1502.0 1454.6,1480.6 1484.6,1528.9 1514.5,1532.6 1544.4,1537.7 1574.4,1535.7 1604.3,1536.0 1634.3,1530.9 1664.2,1522.4 1694.1,1514.5 1724.1,1435.3"/><polyline stroke-opacity="0.16" points="406.7,1484.4 436.6,1477.0 466.6,1477.5 496.5,1475.5 526.4,1458.1 556.4,1443.7 586.3,1399.5 616.3,1278.4 646.2,1364.8 676.2,1427.9 706.1,1466.9 736.0,1481.7 766.0,1483.0 795.9,1473.4 825.9,1448.3 855.8,1427.8 885.7,1345.3 915.7,1321.9 945.6,1418.3 975.6,1452.0 1005.5,1459.5 1035.4,1480.9 1065.4,1502.9 1095.3,1509.6 1125.3,1517.1 1155.2,1458.7 1185.1,1383.3 1215.1,1473.9 1245.0,1489.2 1275.0,1498.1 1304.9,1502.5 1334.9,1505.0 1364.8,1509.7 1394.7,1507.1 1424.7,1502.4 1454.6,1480.1 1484.6,1529.7 1514.5,1533.4 1544.4,1536.9 1574.4,1535.7 1604.3,1536.3 1634.3,1529.6 1664.2,1526.2 1694.1,1512.4 1724.1,1431.6"/><polyline stroke-opacity="0.16" points="406.7,1485.8 436.6,1479.7 466.6,1477.1 496.5,1471.1 526.4,1461.7 556.4,1445.5 586.3,1400.5 616.3,1273.0 646.2,1364.3 676.2,1427.5 706.1,1466.5 736.0,1481.5 766.0,1484.2 795.9,1474.5 825.9,1447.7 855.8,1426.5 885.7,1350.0 915.7,1323.8 945.6,1419.4 975.6,1455.6 1005.5,1462.9 1035.4,1481.7 1065.4,1501.9 1095.3,1514.4 1125.3,1519.6 1155.2,1473.3 1185.1,1377.8 1215.1,1475.5 1245.0,1490.5 1275.0,1495.6 1304.9,1504.0 1334.9,1505.9 1364.8,1508.4 1394.7,1507.4 1424.7,1503.4 1454.6,1480.7 1484.6,1530.3 1514.5,1535.4 1544.4,1537.8 1574.4,1533.5 1604.3,1533.3 1634.3,1531.5 1664.2,1527.9 1694.1,1515.1 1724.1,1441.2"/><polyline stroke-opacity="0.16" points="406.7,1487.6 436.6,1476.4 466.6,1479.0 496.5,1474.4 526.4,1461.9 556.4,1444.3 586.3,1399.7 616.3,1278.2 646.2,1365.9 676.2,1431.9 706.1,1466.8 736.0,1482.9 766.0,1483.7 795.9,1473.5 825.9,1449.2 855.8,1428.1 885.7,1331.0 915.7,1338.2 945.6,1416.9 975.6,1454.0 1005.5,1462.5 1035.4,1485.5 1065.4,1504.7 1095.3,1518.4 1125.3,1521.4 1155.2,1454.6 1185.1,1378.5 1215.1,1469.9 1245.0,1493.1 1275.0,1502.3 1304.9,1502.0 1334.9,1506.6 1364.8,1509.8 1394.7,1506.2 1424.7,1504.5 1454.6,1483.1 1484.6,1531.1 1514.5,1534.8 1544.4,1539.3 1574.4,1538.3 1604.3,1536.5 1634.3,1532.6 1664.2,1528.4 1694.1,1512.7 1724.1,1440.4"/><polyline stroke-opacity="0.16" points="406.7,1486.0 436.6,1481.3 466.6,1478.2 496.5,1473.5 526.4,1463.8 556.4,1448.1 586.3,1400.2 616.3,1268.0 646.2,1366.4 676.2,1430.3 706.1,1470.9 736.0,1483.7 766.0,1484.9 795.9,1474.9 825.9,1450.8 855.8,1428.2 885.7,1324.5 915.7,1340.1 945.6,1418.0 975.6,1456.1 1005.5,1464.8 1035.4,1486.9 1065.4,1506.2 1095.3,1517.5 1125.3,1526.6 1155.2,1459.4 1185.1,1379.9 1215.1,1475.1 1245.0,1487.3 1275.0,1498.3 1304.9,1504.1 1334.9,1507.1 1364.8,1510.4 1394.7,1506.6 1424.7,1504.9 1454.6,1490.3 1484.6,1530.2 1514.5,1534.7 1544.4,1538.5 1574.4,1537.9 1604.3,1537.4 1634.3,1531.7 1664.2,1529.0 1694.1,1516.5 1724.1,1441.3"/><polyline stroke-opacity="0.16" points="406.7,1488.2 436.6,1478.4 466.6,1480.6 496.5,1477.5 526.4,1465.2 556.4,1445.2 586.3,1401.1 616.3,1277.9 646.2,1370.7 676.2,1434.5 706.1,1468.8 736.0,1483.1 766.0,1483.7 795.9,1474.7 825.9,1452.6 855.8,1428.2 885.7,1309.8 915.7,1358.9 945.6,1417.1 975.6,1455.0 1005.5,1467.0 1035.4,1485.7 1065.4,1506.5 1095.3,1518.1 1125.3,1526.4 1155.2,1463.2 1185.1,1378.3 1215.1,1471.6 1245.0,1492.1 1275.0,1499.9 1304.9,1506.8 1334.9,1510.0 1364.8,1510.6 1394.7,1507.8 1424.7,1503.8 1454.6,1486.8 1484.6,1530.0 1514.5,1536.2 1544.4,1539.7 1574.4,1535.2 1604.3,1536.7 1634.3,1533.9 1664.2,1529.4 1694.1,1516.0 1724.1,1440.5"/><polyline stroke-opacity="0.16" points="406.7,1489.6 436.6,1479.9 466.6,1478.8 496.5,1477.8 526.4,1463.7 556.4,1445.1 586.3,1400.4 616.3,1276.8 646.2,1368.8 676.2,1431.9 706.1,1469.4 736.0,1482.8 766.0,1485.6 795.9,1474.7 825.9,1451.6 855.8,1428.9 885.7,1321.3 915.7,1345.4 945.6,1417.5 975.6,1455.7 1005.5,1468.6 1035.4,1486.3 1065.4,1505.8 1095.3,1518.9 1125.3,1521.9 1155.2,1459.3 1185.1,1376.0 1215.1,1465.6 1245.0,1494.9 1275.0,1502.9 1304.9,1501.7 1334.9,1506.9 1364.8,1511.4 1394.7,1506.4 1424.7,1503.4 1454.6,1482.3 1484.6,1530.7 1514.5,1534.1 1544.4,1541.5 1574.4,1537.3 1604.3,1538.4 1634.3,1533.1 1664.2,1525.1 1694.1,1515.6 1724.1,1434.1"/><polyline stroke-opacity="0.16" points="406.7,1487.9 436.6,1481.4 466.6,1481.5 496.5,1477.6 526.4,1463.0 556.4,1447.4 586.3,1404.3 616.3,1271.7 646.2,1369.5 676.2,1433.1 706.1,1471.4 736.0,1484.4 766.0,1485.6 795.9,1476.8 825.9,1449.6 855.8,1428.4 885.7,1325.4 915.7,1340.8 945.6,1418.7 975.6,1455.3 1005.5,1467.6 1035.4,1487.8 1065.4,1510.1 1095.3,1518.5 1125.3,1519.5 1155.2,1464.5 1185.1,1381.0 1215.1,1477.2 1245.0,1498.0 1275.0,1505.8 1304.9,1506.0 1334.9,1509.1 1364.8,1510.5 1394.7,1508.1 1424.7,1506.3 1454.6,1488.9 1484.6,1531.4 1514.5,1537.0 1544.4,1540.5 1574.4,1535.4 1604.3,1538.7 1634.3,1535.7 1664.2,1528.6 1694.1,1517.9 1724.1,1447.9"/><polyline stroke-opacity="0.16" points="406.7,1489.9 436.6,1485.4 466.6,1479.9 496.5,1478.5 526.4,1467.0 556.4,1450.7 586.3,1403.9 616.3,1273.3 646.2,1369.5 676.2,1434.8 706.1,1470.3 736.0,1486.1 766.0,1486.2 795.9,1474.3 825.9,1453.4 855.8,1431.6 885.7,1312.2 915.7,1346.5 945.6,1418.7 975.6,1457.7 1005.5,1468.0 1035.4,1491.3 1065.4,1510.3 1095.3,1519.1 1125.3,1529.3 1155.2,1472.9 1185.1,1376.7 1215.1,1475.9 1245.0,1499.7 1275.0,1504.6 1304.9,1504.1 1334.9,1509.3 1364.8,1512.5 1394.7,1510.6 1424.7,1504.8 1454.6,1488.6 1484.6,1533.0 1514.5,1538.9 1544.4,1543.3 1574.4,1537.2 1604.3,1539.7 1634.3,1534.3 1664.2,1529.3 1694.1,1516.6 1724.1,1443.3"/><polyline stroke-opacity="0.16" points="406.7,1490.2 436.6,1483.3 466.6,1481.2 496.5,1476.0 526.4,1465.2 556.4,1450.0 586.3,1404.2 616.3,1276.2 646.2,1370.7 676.2,1431.8 706.1,1471.3 736.0,1483.1 766.0,1486.6 795.9,1474.6 825.9,1451.5 855.8,1428.6 885.7,1322.5 915.7,1340.7 945.6,1417.7 975.6,1457.5 1005.5,1470.0 1035.4,1486.6 1065.4,1504.8 1095.3,1520.2 1125.3,1531.2 1155.2,1478.0 1185.1,1384.9 1215.1,1480.1 1245.0,1500.1 1275.0,1503.3 1304.9,1503.0 1334.9,1509.5 1364.8,1511.1 1394.7,1508.7 1424.7,1505.7 1454.6,1486.3 1484.6,1531.3 1514.5,1538.0 1544.4,1542.0 1574.4,1538.3 1604.3,1537.7 1634.3,1535.5 1664.2,1528.9 1694.1,1518.8 1724.1,1447.1"/><polyline stroke-opacity="0.16" points="406.7,1488.7 436.6,1483.7 466.6,1481.9 496.5,1477.3 526.4,1468.1 556.4,1447.7 586.3,1401.8 616.3,1275.7 646.2,1372.7 676.2,1435.1 706.1,1471.8 736.0,1484.8 766.0,1486.7 795.9,1474.8 825.9,1451.8 855.8,1430.4 885.7,1343.7 915.7,1330.5 945.6,1421.4 975.6,1459.9 1005.5,1471.0 1035.4,1486.9 1065.4,1514.5 1095.3,1523.1 1125.3,1528.5 1155.2,1474.9 1185.1,1381.5 1215.1,1475.5 1245.0,1498.5 1275.0,1504.8 1304.9,1506.0 1334.9,1507.8 1364.8,1512.6 1394.7,1510.6 1424.7,1506.3 1454.6,1492.5 1484.6,1531.9 1514.5,1536.6 1544.4,1542.7 1574.4,1538.7 1604.3,1540.0 1634.3,1539.8 1664.2,1531.1 1694.1,1519.9 1724.1,1440.1"/><polyline stroke-opacity="0.16" points="406.7,1489.1 436.6,1483.3 466.6,1478.7 496.5,1479.2 526.4,1465.7 556.4,1450.1 586.3,1405.5 616.3,1279.7 646.2,1372.5 676.2,1435.3 706.1,1471.3 736.0,1484.7 766.0,1486.9 795.9,1476.7 825.9,1451.2 855.8,1432.2 885.7,1324.1 915.7,1341.4 945.6,1420.7 975.6,1457.7 1005.5,1468.7 1035.4,1492.4 1065.4,1511.3 1095.3,1522.2 1125.3,1531.4 1155.2,1476.8 1185.1,1382.3 1215.1,1471.9 1245.0,1501.8 1275.0,1502.4 1304.9,1503.9 1334.9,1510.4 1364.8,1513.3 1394.7,1511.5 1424.7,1507.2 1454.6,1490.2 1484.6,1533.0 1514.5,1538.0 1544.4,1542.5 1574.4,1539.3 1604.3,1541.3 1634.3,1537.6 1664.2,1529.4 1694.1,1519.9 1724.1,1454.6"/><polyline stroke-opacity="0.16" points="406.7,1489.0 436.6,1486.4 466.6,1482.0 496.5,1475.3 526.4,1468.7 556.4,1449.7 586.3,1404.0 616.3,1278.7 646.2,1371.4 676.2,1436.5 706.1,1470.4 736.0,1486.9 766.0,1486.5 795.9,1476.1 825.9,1452.8 855.8,1432.5 885.7,1307.5 915.7,1359.8 945.6,1420.2 975.6,1458.8 1005.5,1469.8 1035.4,1490.1 1065.4,1512.9 1095.3,1519.7 1125.3,1533.1 1155.2,1477.8 1185.1,1386.7 1215.1,1480.2 1245.0,1501.3 1275.0,1505.7 1304.9,1506.1 1334.9,1510.2 1364.8,1513.5 1394.7,1510.4 1424.7,1507.1 1454.6,1497.6 1484.6,1532.9 1514.5,1536.2 1544.4,1541.9 1574.4,1540.8 1604.3,1540.3 1634.3,1534.7 1664.2,1528.1 1694.1,1521.8 1724.1,1459.0"/><polyline stroke-opacity="0.16" points="406.7,1492.1 436.6,1484.1 466.6,1482.9 496.5,1479.1 526.4,1466.5 556.4,1451.0 586.3,1405.9 616.3,1274.3 646.2,1375.7 676.2,1436.9 706.1,1473.7 736.0,1485.5 766.0,1487.0 795.9,1477.3 825.9,1454.3 855.8,1432.2 885.7,1321.7 915.7,1346.5 945.6,1419.7 975.6,1458.6 1005.5,1468.0 1035.4,1491.9 1065.4,1517.3 1095.3,1525.2 1125.3,1532.6 1155.2,1479.0 1185.1,1383.0 1215.1,1480.2 1245.0,1501.3 1275.0,1504.0 1304.9,1507.8 1334.9,1511.1 1364.8,1513.3 1394.7,1509.7 1424.7,1509.4 1454.6,1492.3 1484.6,1532.9 1514.5,1537.9 1544.4,1542.7 1574.4,1538.8 1604.3,1541.4 1634.3,1538.1 1664.2,1531.2 1694.1,1516.9 1724.1,1448.2"/><polyline stroke-opacity="0.16" points="406.7,1490.8 436.6,1484.5 466.6,1482.8 496.5,1480.9 526.4,1470.3 556.4,1448.2 586.3,1403.5 616.3,1279.0 646.2,1374.6 676.2,1436.2 706.1,1473.4 736.0,1485.0 766.0,1488.2 795.9,1477.3 825.9,1453.9 855.8,1432.9 885.7,1316.8 915.7,1349.6 945.6,1421.4 975.6,1460.7 1005.5,1468.9 1035.4,1494.1 1065.4,1512.3 1095.3,1524.7 1125.3,1529.0 1155.2,1475.9 1185.1,1382.1 1215.1,1481.9 1245.0,1507.1 1275.0,1505.3 1304.9,1510.2 1334.9,1510.9 1364.8,1512.2 1394.7,1513.1 1424.7,1507.3 1454.6,1498.4 1484.6,1534.6 1514.5,1537.3 1544.4,1543.9 1574.4,1540.1 1604.3,1542.3 1634.3,1537.3 1664.2,1530.4 1694.1,1523.3 1724.1,1459.7"/><polyline stroke-opacity="0.16" points="406.7,1491.4 436.6,1485.9 466.6,1484.7 496.5,1480.8 526.4,1471.1 556.4,1452.6 586.3,1406.4 616.3,1277.7 646.2,1372.5 676.2,1439.8 706.1,1476.2 736.0,1487.3 766.0,1486.8 795.9,1477.1 825.9,1454.8 855.8,1433.2 885.7,1338.9 915.7,1337.0 945.6,1422.0 975.6,1461.4 1005.5,1473.1 1035.4,1489.8 1065.4,1517.8 1095.3,1523.3 1125.3,1530.8 1155.2,1484.3 1185.1,1378.8 1215.1,1487.0 1245.0,1501.4 1275.0,1504.8 1304.9,1509.8 1334.9,1511.9 1364.8,1514.2 1394.7,1512.8 1424.7,1508.1 1454.6,1504.7 1484.6,1532.8 1514.5,1539.6 1544.4,1545.3 1574.4,1539.6 1604.3,1542.7 1634.3,1535.1 1664.2,1534.4 1694.1,1524.4 1724.1,1456.7"/><polyline stroke-opacity="0.16" points="406.7,1494.0 436.6,1487.1 466.6,1484.3 496.5,1476.1 526.4,1470.9 556.4,1452.8 586.3,1407.4 616.3,1273.7 646.2,1375.9 676.2,1437.7 706.1,1476.8 736.0,1488.0 766.0,1486.8 795.9,1476.5 825.9,1455.0 855.8,1433.8 885.7,1323.9 915.7,1340.4 945.6,1423.6 975.6,1460.2 1005.5,1474.5 1035.4,1496.5 1065.4,1519.2 1095.3,1526.6 1125.3,1535.0 1155.2,1483.0 1185.1,1383.7 1215.1,1486.3 1245.0,1503.4 1275.0,1506.7 1304.9,1508.2 1334.9,1512.6 1364.8,1515.1 1394.7,1511.4 1424.7,1509.2 1454.6,1499.2 1484.6,1534.2 1514.5,1539.7 1544.4,1543.9 1574.4,1542.2 1604.3,1542.8 1634.3,1533.7 1664.2,1533.5 1694.1,1526.2 1724.1,1469.1"/><polyline stroke-opacity="0.16" points="406.7,1493.8 436.6,1485.6 466.6,1487.0 496.5,1482.5 526.4,1468.9 556.4,1450.5 586.3,1405.9 616.3,1286.2 646.2,1371.4 676.2,1436.2 706.1,1475.7 736.0,1487.7 766.0,1487.0 795.9,1478.4 825.9,1454.4 855.8,1434.1 885.7,1322.5 915.7,1342.5 945.6,1423.5 975.6,1461.3 1005.5,1476.1 1035.4,1501.9 1065.4,1521.2 1095.3,1528.3 1125.3,1539.5 1155.2,1475.7 1185.1,1380.3 1215.1,1490.9 1245.0,1499.8 1275.0,1509.0 1304.9,1505.3 1334.9,1515.3 1364.8,1515.6 1394.7,1510.9 1424.7,1509.9 1454.6,1498.8 1484.6,1536.6 1514.5,1540.5 1544.4,1545.1 1574.4,1542.0 1604.3,1543.9 1634.3,1537.2 1664.2,1534.9 1694.1,1526.3 1724.1,1455.9"/><polyline stroke-opacity="0.16" points="406.7,1493.2 436.6,1491.5 466.6,1485.5 496.5,1483.0 526.4,1469.4 556.4,1454.9 586.3,1407.2 616.3,1272.3 646.2,1376.1 676.2,1440.2 706.1,1475.9 736.0,1488.8 766.0,1488.1 795.9,1478.1 825.9,1454.8 855.8,1433.0 885.7,1320.8 915.7,1344.7 945.6,1425.2 975.6,1464.4 1005.5,1473.8 1035.4,1500.6 1065.4,1524.9 1095.3,1533.8 1125.3,1531.3 1155.2,1491.7 1185.1,1386.6 1215.1,1489.6 1245.0,1504.2 1275.0,1508.7 1304.9,1512.0 1334.9,1514.2 1364.8,1514.4 1394.7,1512.9 1424.7,1510.3 1454.6,1502.0 1484.6,1534.6 1514.5,1539.1 1544.4,1544.5 1574.4,1541.8 1604.3,1542.5 1634.3,1537.0 1664.2,1532.0 1694.1,1528.5 1724.1,1456.8"/><polyline stroke-opacity="0.16" points="406.7,1496.4 436.6,1490.5 466.6,1485.6 496.5,1481.1 526.4,1470.5 556.4,1451.9 586.3,1406.5 616.3,1274.2 646.2,1376.0 676.2,1439.9 706.1,1475.7 736.0,1487.7 766.0,1487.3 795.9,1477.4 825.9,1454.3 855.8,1435.3 885.7,1327.6 915.7,1340.9 945.6,1423.8 975.6,1464.1 1005.5,1478.7 1035.4,1497.5 1065.4,1520.7 1095.3,1528.8 1125.3,1543.3 1155.2,1487.2 1185.1,1389.5 1215.1,1486.5 1245.0,1501.3 1275.0,1511.4 1304.9,1508.1 1334.9,1509.6 1364.8,1514.7 1394.7,1516.0 1424.7,1510.6 1454.6,1500.5 1484.6,1534.3 1514.5,1540.3 1544.4,1544.4 1574.4,1540.4 1604.3,1543.0 1634.3,1539.8 1664.2,1535.4 1694.1,1526.5 1724.1,1462.4"/><polyline stroke-opacity="0.16" points="406.7,1493.7 436.6,1489.0 466.6,1487.7 496.5,1480.3 526.4,1472.2 556.4,1451.9 586.3,1409.1 616.3,1280.9 646.2,1379.7 676.2,1441.3 706.1,1476.5 736.0,1487.7 766.0,1489.1 795.9,1479.1 825.9,1454.9 855.8,1435.6 885.7,1345.1 915.7,1323.1 945.6,1429.5 975.6,1464.3 1005.5,1478.0 1035.4,1501.7 1065.4,1523.6 1095.3,1527.8 1125.3,1542.3 1155.2,1496.6 1185.1,1384.3 1215.1,1490.7 1245.0,1509.8 1275.0,1509.3 1304.9,1510.0 1334.9,1512.4 1364.8,1514.4 1394.7,1513.4 1424.7,1510.6 1454.6,1501.0 1484.6,1534.3 1514.5,1540.6 1544.4,1546.5 1574.4,1545.1 1604.3,1543.4 1634.3,1539.4 1664.2,1535.6 1694.1,1531.6 1724.1,1465.5"/><polyline stroke-opacity="0.16" points="406.7,1494.8 436.6,1491.2 466.6,1488.7 496.5,1485.9 526.4,1469.8 556.4,1455.6 586.3,1406.9 616.3,1269.6 646.2,1378.8 676.2,1440.1 706.1,1478.7 736.0,1489.5 766.0,1489.1 795.9,1478.8 825.9,1457.8 855.8,1435.0 885.7,1337.1 915.7,1335.6 945.6,1424.0 975.6,1464.5 1005.5,1475.9 1035.4,1497.9 1065.4,1524.2 1095.3,1532.7 1125.3,1541.3 1155.2,1496.8 1185.1,1383.6 1215.1,1491.9 1245.0,1504.8 1275.0,1511.2 1304.9,1513.7 1334.9,1518.2 1364.8,1519.7 1394.7,1513.6 1424.7,1512.6 1454.6,1500.2 1484.6,1538.8 1514.5,1541.7 1544.4,1545.2 1574.4,1543.0 1604.3,1544.3 1634.3,1540.9 1664.2,1535.0 1694.1,1527.4 1724.1,1470.5"/><polyline stroke-opacity="0.16" points="406.7,1494.1 436.6,1493.2 466.6,1488.2 496.5,1484.5 526.4,1471.9 556.4,1453.6 586.3,1407.4 616.3,1277.0 646.2,1382.3 676.2,1438.6 706.1,1474.9 736.0,1493.0 766.0,1488.2 795.9,1478.1 825.9,1457.3 855.8,1434.8 885.7,1351.9 915.7,1323.4 945.6,1424.6 975.6,1464.7 1005.5,1480.3 1035.4,1507.3 1065.4,1523.2 1095.3,1534.9 1125.3,1545.0 1155.2,1497.1 1185.1,1383.3 1215.1,1497.0 1245.0,1513.4 1275.0,1509.5 1304.9,1510.2 1334.9,1514.8 1364.8,1522.2 1394.7,1513.7 1424.7,1508.9 1454.6,1507.6 1484.6,1537.4 1514.5,1546.6 1544.4,1547.2 1574.4,1550.3 1604.3,1544.0 1634.3,1543.7 1664.2,1536.1 1694.1,1526.8 1724.1,1468.1"/><polyline stroke-opacity="0.16" points="406.7,1495.5 436.6,1492.3 466.6,1489.4 496.5,1486.3 526.4,1473.9 556.4,1455.5 586.3,1407.5 616.3,1280.1 646.2,1378.4 676.2,1441.9 706.1,1477.7 736.0,1490.0 766.0,1489.2 795.9,1478.6 825.9,1455.8 855.8,1436.5 885.7,1345.1 915.7,1334.0 945.6,1425.1 975.6,1463.5 1005.5,1475.4 1035.4,1497.5 1065.4,1525.4 1095.3,1532.3 1125.3,1545.3 1155.2,1493.9 1185.1,1380.2 1215.1,1494.4 1245.0,1507.7 1275.0,1511.4 1304.9,1512.0 1334.9,1518.2 1364.8,1518.5 1394.7,1522.3 1424.7,1510.5 1454.6,1505.9 1484.6,1535.7 1514.5,1540.6 1544.4,1547.8 1574.4,1544.0 1604.3,1547.1 1634.3,1545.4 1664.2,1535.1 1694.1,1524.6 1724.1,1470.2"/><polyline stroke-opacity="0.16" points="406.7,1495.3 436.6,1490.6 466.6,1490.2 496.5,1484.8 526.4,1473.5 556.4,1458.3 586.3,1409.0 616.3,1276.0 646.2,1382.0 676.2,1442.3 706.1,1479.5 736.0,1490.1 766.0,1489.0 795.9,1480.4 825.9,1456.5 855.8,1435.3 885.7,1324.4 915.7,1345.0 945.6,1426.6 975.6,1465.3 1005.5,1478.8 1035.4,1502.1 1065.4,1524.4 1095.3,1531.4 1125.3,1548.6 1155.2,1497.1 1185.1,1385.0 1215.1,1486.5 1245.0,1505.8 1275.0,1510.6 1304.9,1520.3 1334.9,1514.7 1364.8,1521.4 1394.7,1513.1 1424.7,1510.3 1454.6,1504.8 1484.6,1542.5 1514.5,1539.3 1544.4,1547.9 1574.4,1547.7 1604.3,1547.4 1634.3,1542.9 1664.2,1541.6 1694.1,1532.7 1724.1,1465.4"/><polyline stroke-opacity="0.16" points="406.7,1496.9 436.6,1494.4 466.6,1493.1 496.5,1488.7 526.4,1475.7 556.4,1455.3 586.3,1408.6 616.3,1281.8 646.2,1378.9 676.2,1446.6 706.1,1479.7 736.0,1492.2 766.0,1489.4 795.9,1478.4 825.9,1456.4 855.8,1437.1 885.7,1349.0 915.7,1320.4 945.6,1430.6 975.6,1465.0 1005.5,1478.2 1035.4,1504.5 1065.4,1530.9 1095.3,1534.6 1125.3,1551.3 1155.2,1502.5 1185.1,1387.2 1215.1,1494.3 1245.0,1517.1 1275.0,1512.6 1304.9,1516.2 1334.9,1514.9 1364.8,1529.1 1394.7,1519.8 1424.7,1515.0 1454.6,1514.5 1484.6,1535.1 1514.5,1541.5 1544.4,1549.0 1574.4,1550.2 1604.3,1551.2 1634.3,1553.5 1664.2,1536.9 1694.1,1535.4 1724.1,1470.8"/><polyline stroke-opacity="0.16" points="406.7,1498.1 436.6,1491.5 466.6,1490.9 496.5,1485.3 526.4,1477.0 556.4,1457.0 586.3,1408.4 616.3,1284.8 646.2,1381.1 676.2,1443.6 706.1,1477.7 736.0,1491.1 766.0,1489.0 795.9,1480.7 825.9,1456.7 855.8,1436.8 885.7,1321.9 915.7,1347.9 945.6,1426.8 975.6,1464.3 1005.5,1479.4 1035.4,1505.1 1065.4,1527.0 1095.3,1533.7 1125.3,1543.8 1155.2,1496.4 1185.1,1385.1 1215.1,1497.7 1245.0,1510.2 1275.0,1515.1 1304.9,1527.6 1334.9,1515.2 1364.8,1517.7 1394.7,1530.4 1424.7,1519.0 1454.6,1503.1 1484.6,1544.5 1514.5,1540.3 1544.4,1554.0 1574.4,1540.9 1604.3,1544.6 1634.3,1552.1 1664.2,1536.5 1694.1,1530.1 1724.1,1472.5"/><polyline stroke-opacity="0.16" points="406.7,1497.4 436.6,1496.1 466.6,1492.6 496.5,1487.9 526.4,1474.1 556.4,1456.6 586.3,1409.8 616.3,1287.5 646.2,1381.9 676.2,1445.3 706.1,1479.1 736.0,1491.6 766.0,1489.1 795.9,1481.5 825.9,1459.0 855.8,1437.6 885.7,1341.2 915.7,1327.3 945.6,1431.1 975.6,1464.8 1005.5,1479.0 1035.4,1508.6 1065.4,1526.4 1095.3,1534.8 1125.3,1551.6 1155.2,1495.2 1185.1,1388.0 1215.1,1512.0 1245.0,1516.0 1275.0,1517.5 1304.9,1523.7 1334.9,1520.6 1364.8,1525.2 1394.7,1515.0 1424.7,1516.7 1454.6,1510.4 1484.6,1544.4 1514.5,1539.7 1544.4,1551.5 1574.4,1555.8 1604.3,1561.9 1634.3,1553.8 1664.2,1535.9 1694.1,1528.1 1724.1,1471.8"/><polyline stroke-opacity="0.16" points="406.7,1501.0 436.6,1492.0 466.6,1490.7 496.5,1488.3 526.4,1477.9 556.4,1457.2 586.3,1410.6 616.3,1277.6 646.2,1384.0 676.2,1444.9 706.1,1476.6 736.0,1490.4 766.0,1489.7 795.9,1481.0 825.9,1458.7 855.8,1439.0 885.7,1349.3 915.7,1323.2 945.6,1430.0 975.6,1465.7 1005.5,1482.4 1035.4,1504.3 1065.4,1529.7 1095.3,1537.4 1125.3,1550.0 1155.2,1501.7 1185.1,1385.0 1215.1,1514.1 1245.0,1517.6 1275.0,1530.6 1304.9,1517.7 1334.9,1529.9 1364.8,1515.8 1394.7,1518.2 1424.7,1516.9 1454.6,1508.3 1484.6,1540.5 1514.5,1542.0 1544.4,1552.4 1574.4,1546.3 1604.3,1551.3 1634.3,1546.3 1664.2,1536.7 1694.1,1533.3 1724.1,1474.4"/><polyline stroke-opacity="0.16" points="406.7,1501.1 436.6,1493.6 466.6,1492.1 496.5,1489.3 526.4,1475.6 556.4,1460.2 586.3,1413.6 616.3,1290.3 646.2,1382.7 676.2,1448.5 706.1,1477.9 736.0,1493.3 766.0,1490.0 795.9,1480.5 825.9,1457.6 855.8,1437.5 885.7,1348.9 915.7,1326.3 945.6,1430.3 975.6,1466.4 1005.5,1488.0 1035.4,1508.7 1065.4,1528.9 1095.3,1538.2 1125.3,1556.1 1155.2,1506.6 1185.1,1382.8 1215.1,1494.8 1245.0,1512.6 1275.0,1520.4 1304.9,1520.1 1334.9,1536.2 1364.8,1529.6 1394.7,1537.6 1424.7,1516.8 1454.6,1509.0 1484.6,1544.9 1514.5,1547.1 1544.4,1555.8 1574.4,1552.0 1604.3,1547.9 1634.3,1542.8 1664.2,1539.4 1694.1,1532.5 1724.1,1481.4"/><polyline stroke-opacity="0.16" points="406.7,1500.4 436.6,1493.8 466.6,1492.4 496.5,1489.8 526.4,1474.6 556.4,1459.1 586.3,1410.7 616.3,1280.1 646.2,1383.5 676.2,1445.2 706.1,1480.9 736.0,1492.9 766.0,1489.8 795.9,1482.1 825.9,1459.6 855.8,1438.3 885.7,1337.0 915.7,1330.1 945.6,1432.7 975.6,1468.0 1005.5,1485.1 1035.4,1508.0 1065.4,1522.5 1095.3,1543.1 1125.3,1549.2 1155.2,1509.8 1185.1,1381.6 1215.1,1503.0 1245.0,1521.3 1275.0,1525.3 1304.9,1511.9 1334.9,1518.5 1364.8,1537.7 1394.7,1519.7 1424.7,1524.2 1454.6,1506.3 1484.6,1538.7 1514.5,1540.8 1544.4,1558.2 1574.4,1561.0 1604.3,1554.8 1634.3,1549.7 1664.2,1545.9 1694.1,1540.7 1724.1,1474.8"/><polyline stroke-opacity="0.16" points="406.7,1503.5 436.6,1494.0 466.6,1490.2 496.5,1492.4 526.4,1479.6 556.4,1460.9 586.3,1412.1 616.3,1286.1 646.2,1387.5 676.2,1449.0 706.1,1479.8 736.0,1493.8 766.0,1490.1 795.9,1481.9 825.9,1459.3 855.8,1439.1 885.7,1309.3 915.7,1358.0 945.6,1432.1 975.6,1467.6 1005.5,1486.2 1035.4,1508.0 1065.4,1526.6 1095.3,1539.3 1125.3,1547.1 1155.2,1504.0 1185.1,1385.4 1215.1,1513.5 1245.0,1522.4 1275.0,1529.3 1304.9,1526.3 1334.9,1527.3 1364.8,1515.4 1394.7,1520.9 1424.7,1521.2 1454.6,1512.9 1484.6,1551.2 1514.5,1547.1 1544.4,1570.8 1574.4,1561.7 1604.3,1553.9 1634.3,1542.2 1664.2,1538.6 1694.1,1535.1 1724.1,1477.6"/><polyline stroke-opacity="0.16" points="406.7,1503.5 436.6,1496.4 466.6,1492.6 496.5,1490.5 526.4,1479.5 556.4,1460.8 586.3,1412.0 616.3,1285.5 646.2,1386.6 676.2,1448.5 706.1,1480.6 736.0,1492.6 766.0,1490.1 795.9,1482.9 825.9,1459.7 855.8,1440.1 885.7,1318.0 915.7,1346.7 945.6,1429.6 975.6,1468.3 1005.5,1486.1 1035.4,1510.3 1065.4,1533.8 1095.3,1539.0 1125.3,1550.5 1155.2,1513.7 1185.1,1387.7 1215.1,1517.2 1245.0,1520.0 1275.0,1542.0 1304.9,1520.4 1334.9,1532.7 1364.8,1526.8 1394.7,1513.0 1424.7,1522.9 1454.6,1520.7 1484.6,1550.2 1514.5,1551.6 1544.4,1555.1 1574.4,1553.0 1604.3,1555.9 1634.3,1563.6 1664.2,1546.1 1694.1,1549.5 1724.1,1483.3"/><polyline stroke-opacity="0.16" points="406.7,1497.8 436.6,1496.2 466.6,1491.7 496.5,1490.3 526.4,1481.1 556.4,1460.2 586.3,1412.0 616.3,1279.8 646.2,1385.0 676.2,1449.8 706.1,1483.3 736.0,1491.9 766.0,1490.8 795.9,1483.7 825.9,1459.5 855.8,1439.9 885.7,1342.8 915.7,1334.8 945.6,1432.3 975.6,1467.2 1005.5,1489.7 1035.4,1507.0 1065.4,1528.7 1095.3,1543.1 1125.3,1557.8 1155.2,1509.3 1185.1,1387.4 1215.1,1518.3 1245.0,1516.6 1275.0,1524.1 1304.9,1531.6 1334.9,1533.3 1364.8,1546.5 1394.7,1536.8 1424.7,1510.4 1454.6,1536.6 1484.6,1542.7 1514.5,1556.1 1544.4,1550.7 1574.4,1562.0 1604.3,1547.7 1634.3,1564.9 1664.2,1560.5 1694.1,1540.1 1724.1,1482.9"/><polyline stroke-opacity="0.16" points="406.7,1500.6 436.6,1496.9 466.6,1494.5 496.5,1489.1 526.4,1483.4 556.4,1459.1 586.3,1412.5 616.3,1282.4 646.2,1386.9 676.2,1452.5 706.1,1482.9 736.0,1493.7 766.0,1491.4 795.9,1482.9 825.9,1458.6 855.8,1442.8 885.7,1311.8 915.7,1352.5 945.6,1434.5 975.6,1467.2 1005.5,1489.7 1035.4,1505.2 1065.4,1527.4 1095.3,1540.4 1125.3,1553.6 1155.2,1509.3 1185.1,1389.4 1215.1,1521.2 1245.0,1526.5 1275.0,1531.6 1304.9,1524.2 1334.9,1524.9 1364.8,1522.6 1394.7,1528.5 1424.7,1519.2 1454.6,1523.2 1484.6,1553.9 1514.5,1559.2 1544.4,1574.7 1574.4,1553.1 1604.3,1546.8 1634.3,1550.9 1664.2,1566.2 1694.1,1548.7 1724.1,1478.8"/><polyline stroke-opacity="0.16" points="406.7,1505.0 436.6,1497.0 466.6,1493.9 496.5,1493.0 526.4,1478.7 556.4,1461.2 586.3,1415.3 616.3,1279.2 646.2,1387.9 676.2,1449.6 706.1,1482.6 736.0,1494.8 766.0,1492.1 795.9,1483.8 825.9,1461.5 855.8,1441.9 885.7,1322.3 915.7,1344.0 945.6,1432.2 975.6,1468.3 1005.5,1488.0 1035.4,1511.6 1065.4,1527.4 1095.3,1544.9 1125.3,1559.6 1155.2,1519.5 1185.1,1383.1 1215.1,1505.3 1245.0,1524.0 1275.0,1550.3 1304.9,1525.1 1334.9,1534.6 1364.8,1546.2 1394.7,1544.9 1424.7,1529.0 1454.6,1535.5 1484.6,1561.3 1514.5,1560.7 1544.4,1567.1 1574.4,1555.9 1604.3,1561.1 1634.3,1559.8 1664.2,1542.1 1694.1,1540.8 1724.1,1490.9"/><polyline stroke-opacity="0.16" points="406.7,1501.3 436.6,1498.5 466.6,1496.2 496.5,1493.4 526.4,1484.4 556.4,1460.9 586.3,1413.8 616.3,1283.1 646.2,1391.9 676.2,1449.2 706.1,1484.3 736.0,1493.4 766.0,1491.8 795.9,1484.0 825.9,1459.8 855.8,1440.7 885.7,1334.3 915.7,1337.2 945.6,1434.0 975.6,1469.9 1005.5,1489.6 1035.4,1511.3 1065.4,1536.7 1095.3,1545.6 1125.3,1556.4 1155.2,1517.4 1185.1,1386.2 1215.1,1506.8 1245.0,1529.7 1275.0,1523.7 1304.9,1558.2 1334.9,1541.5 1364.8,1541.6 1394.7,1538.4 1424.7,1547.3 1454.6,1520.1 1484.6,1551.3 1514.5,1547.2 1544.4,1577.3 1574.4,1561.9 1604.3,1579.2 1634.3,1561.4 1664.2,1546.4 1694.1,1541.8 1724.1,1487.5"/><polyline stroke-opacity="0.16" points="406.7,1502.1 436.6,1497.3 466.6,1494.4 496.5,1495.3 526.4,1479.6 556.4,1462.7 586.3,1414.6 616.3,1278.1 646.2,1392.3 676.2,1453.4 706.1,1484.0 736.0,1493.6 766.0,1492.1 795.9,1484.2 825.9,1460.2 855.8,1441.7 885.7,1336.2 915.7,1331.6 945.6,1433.4 975.6,1469.2 1005.5,1491.1 1035.4,1508.9 1065.4,1537.5 1095.3,1544.8 1125.3,1558.6 1155.2,1517.3 1185.1,1390.7 1215.1,1520.2 1245.0,1541.6 1275.0,1536.4 1304.9,1543.8 1334.9,1543.5 1364.8,1537.9 1394.7,1539.4 1424.7,1530.4 1454.6,1516.4 1484.6,1547.0 1514.5,1563.0 1544.4,1561.4 1574.4,1554.2 1604.3,1559.1 1634.3,1566.9 1664.2,1543.7 1694.1,1543.2 1724.1,1482.1"/><polyline stroke-opacity="0.16" points="406.7,1499.6 436.6,1497.8 466.6,1497.6 496.5,1495.5 526.4,1481.0 556.4,1465.0 586.3,1415.0 616.3,1280.1 646.2,1389.2 676.2,1450.2 706.1,1485.0 736.0,1493.8 766.0,1490.9 795.9,1484.3 825.9,1460.8 855.8,1443.1 885.7,1312.7 915.7,1350.7 945.6,1430.0 975.6,1469.8 1005.5,1486.3 1035.4,1510.4 1065.4,1533.6 1095.3,1549.7 1125.3,1562.4 1155.2,1522.4 1185.1,1384.1 1215.1,1528.7 1245.0,1525.8 1275.0,1536.0 1304.9,1545.9 1334.9,1538.1 1364.8,1540.1 1394.7,1530.3 1424.7,1543.0 1454.6,1540.9 1484.6,1559.4 1514.5,1573.6 1544.4,1557.4 1574.4,1566.1 1604.3,1573.2 1634.3,1571.6 1664.2,1559.2 1694.1,1552.9 1724.1,1477.3"/><polyline stroke-opacity="0.16" points="406.7,1504.0 436.6,1499.1 466.6,1497.4 496.5,1490.7 526.4,1483.1 556.4,1465.4 586.3,1414.1 616.3,1286.8 646.2,1389.6 676.2,1450.1 706.1,1485.5 736.0,1493.7 766.0,1492.4 795.9,1483.7 825.9,1461.1 855.8,1443.8 885.7,1316.2 915.7,1348.8 945.6,1436.4 975.6,1470.5 1005.5,1489.8 1035.4,1514.2 1065.4,1539.3 1095.3,1541.6 1125.3,1559.8 1155.2,1518.5 1185.1,1392.3 1215.1,1529.8 1245.0,1550.9 1275.0,1543.0 1304.9,1533.7 1334.9,1536.9 1364.8,1546.5 1394.7,1539.8 1424.7,1532.7 1454.6,1535.3 1484.6,1553.2 1514.5,1567.2 1544.4,1563.0 1574.4,1564.0 1604.3,1567.2 1634.3,1578.9 1664.2,1560.0 1694.1,1560.6 1724.1,1485.5"/><polyline stroke-opacity="0.16" points="406.7,1505.2 436.6,1500.6 466.6,1496.6 496.5,1493.6 526.4,1483.0 556.4,1466.1 586.3,1414.7 616.3,1282.0 646.2,1392.0 676.2,1450.9 706.1,1485.6 736.0,1495.6 766.0,1492.7 795.9,1485.2 825.9,1463.0 855.8,1444.7 885.7,1333.2 915.7,1338.1 945.6,1436.8 975.6,1470.2 1005.5,1491.4 1035.4,1514.4 1065.4,1541.3 1095.3,1545.2 1125.3,1559.0 1155.2,1518.8 1185.1,1385.6 1215.1,1520.1 1245.0,1540.7 1275.0,1531.5 1304.9,1541.3 1334.9,1533.6 1364.8,1542.8 1394.7,1548.4 1424.7,1522.0 1454.6,1540.9 1484.6,1559.4 1514.5,1564.1 1544.4,1576.7 1574.4,1573.3 1604.3,1561.2 1634.3,1571.8 1664.2,1565.8 1694.1,1562.9 1724.1,1480.6"/><polyline stroke-opacity="0.16" points="406.7,1505.3 436.6,1499.0 466.6,1495.8 496.5,1496.2 526.4,1487.7 556.4,1461.2 586.3,1417.1 616.3,1288.2 646.2,1392.8 676.2,1455.0 706.1,1486.1 736.0,1495.5 766.0,1492.4 795.9,1486.4 825.9,1461.6 855.8,1444.4 885.7,1351.7 915.7,1322.4 945.6,1434.5 975.6,1473.0 1005.5,1496.5 1035.4,1517.2 1065.4,1541.3 1095.3,1547.7 1125.3,1563.5 1155.2,1518.6 1185.1,1388.2 1215.1,1509.9 1245.0,1542.0 1275.0,1540.3 1304.9,1537.6 1334.9,1535.5 1364.8,1550.3 1394.7,1539.0 1424.7,1549.8 1454.6,1541.1 1484.6,1558.2 1514.5,1568.2 1544.4,1589.3 1574.4,1572.2 1604.3,1576.8 1634.3,1575.8 1664.2,1555.3 1694.1,1563.9 1724.1,1487.4"/><polyline stroke-opacity="0.16" points="406.7,1505.3 436.6,1504.2 466.6,1497.1 496.5,1492.5 526.4,1484.5 556.4,1464.7 586.3,1415.6 616.3,1285.9 646.2,1392.9 676.2,1454.1 706.1,1488.1 736.0,1497.5 766.0,1492.4 795.9,1485.7 825.9,1464.6 855.8,1444.8 885.7,1334.3 915.7,1335.5 945.6,1435.0 975.6,1471.5 1005.5,1495.3 1035.4,1513.9 1065.4,1538.7 1095.3,1547.5 1125.3,1555.3 1155.2,1526.6 1185.1,1391.6 1215.1,1546.5 1245.0,1532.6 1275.0,1549.9 1304.9,1546.7 1334.9,1547.6 1364.8,1555.1 1394.7,1554.7 1424.7,1529.8 1454.6,1561.1 1484.6,1558.5 1514.5,1561.7 1544.4,1570.9 1574.4,1570.3 1604.3,1564.8 1634.3,1587.6 1664.2,1566.3 1694.1,1548.5 1724.1,1494.8"/><polyline stroke-opacity="0.16" points="406.7,1507.5 436.6,1501.5 466.6,1497.6 496.5,1496.6 526.4,1481.5 556.4,1463.2 586.3,1416.3 616.3,1279.1 646.2,1393.1 676.2,1452.5 706.1,1486.7 736.0,1497.5 766.0,1493.7 795.9,1487.8 825.9,1463.9 855.8,1445.3 885.7,1327.5 915.7,1337.7 945.6,1436.9 975.6,1470.2 1005.5,1495.1 1035.4,1515.5 1065.4,1540.6 1095.3,1548.6 1125.3,1565.1 1155.2,1529.0 1185.1,1390.5 1215.1,1530.7 1245.0,1543.0 1275.0,1564.8 1304.9,1551.7 1334.9,1532.9 1364.8,1537.4 1394.7,1552.8 1424.7,1543.4 1454.6,1544.3 1484.6,1565.9 1514.5,1572.4 1544.4,1582.8 1574.4,1570.8 1604.3,1572.1 1634.3,1584.7 1664.2,1573.5 1694.1,1553.7 1724.1,1493.5"/><polyline stroke-opacity="0.16" points="406.7,1505.5 436.6,1503.7 466.6,1500.8 496.5,1497.1 526.4,1486.0 556.4,1467.1 586.3,1418.2 616.3,1283.0 646.2,1393.0 676.2,1450.6 706.1,1487.0 736.0,1498.1 766.0,1493.5 795.9,1486.3 825.9,1462.6 855.8,1444.4 885.7,1307.9 915.7,1359.0 945.6,1437.7 975.6,1470.8 1005.5,1494.7 1035.4,1512.4 1065.4,1542.2 1095.3,1553.6 1125.3,1569.6 1155.2,1523.5 1185.1,1395.3 1215.1,1536.5 1245.0,1527.0 1275.0,1541.1 1304.9,1559.9 1334.9,1573.3 1364.8,1547.3 1394.7,1534.3 1424.7,1536.9 1454.6,1573.4 1484.6,1563.6 1514.5,1560.4 1544.4,1563.9 1574.4,1582.3 1604.3,1586.4 1634.3,1576.7 1664.2,1565.6 1694.1,1559.8 1724.1,1491.0"/><polyline stroke-opacity="0.16" points="406.7,1506.4 436.6,1505.2 466.6,1499.9 496.5,1498.8 526.4,1488.7 556.4,1462.9 586.3,1416.7 616.3,1285.9 646.2,1393.6 676.2,1455.8 706.1,1487.6 736.0,1496.9 766.0,1493.1 795.9,1487.0 825.9,1463.9 855.8,1446.7 885.7,1318.7 915.7,1347.9 945.6,1440.2 975.6,1474.4 1005.5,1497.6 1035.4,1521.0 1065.4,1541.3 1095.3,1547.1 1125.3,1570.5 1155.2,1530.1 1185.1,1392.8 1215.1,1533.5 1245.0,1559.3 1275.0,1537.7 1304.9,1555.3 1334.9,1564.7 1364.8,1568.9 1394.7,1560.4 1424.7,1546.3 1454.6,1547.5 1484.6,1562.6 1514.5,1581.1 1544.4,1586.2 1574.4,1584.7 1604.3,1595.1 1634.3,1570.4 1664.2,1563.9 1694.1,1563.7 1724.1,1494.1"/><polyline stroke-opacity="0.16" points="406.7,1504.8 436.6,1504.2 466.6,1498.8 496.5,1495.5 526.4,1487.4 556.4,1465.4 586.3,1418.0 616.3,1289.8 646.2,1395.3 676.2,1456.3 706.1,1488.8 736.0,1499.3 766.0,1493.7 795.9,1488.0 825.9,1465.0 855.8,1446.3 885.7,1311.5 915.7,1349.4 945.6,1440.0 975.6,1472.6 1005.5,1493.5 1035.4,1516.4 1065.4,1539.4 1095.3,1546.3 1125.3,1566.6 1155.2,1538.2 1185.1,1387.7 1215.1,1555.0 1245.0,1547.0 1275.0,1551.7 1304.9,1566.7 1334.9,1544.1 1364.8,1555.0 1394.7,1559.8 1424.7,1550.2 1454.6,1540.3 1484.6,1559.4 1514.5,1588.4 1544.4,1584.1 1574.4,1577.4 1604.3,1592.1 1634.3,1566.9 1664.2,1569.6 1694.1,1548.8 1724.1,1503.9"/><polyline stroke-opacity="0.16" points="406.7,1506.8 436.6,1504.3 466.6,1500.7 496.5,1498.2 526.4,1486.6 556.4,1467.6 586.3,1417.2 616.3,1289.8 646.2,1397.4 676.2,1453.8 706.1,1487.8 736.0,1497.6 766.0,1493.9 795.9,1486.1 825.9,1468.2 855.8,1446.4 885.7,1346.7 915.7,1326.3 945.6,1440.5 975.6,1476.2 1005.5,1498.8 1035.4,1518.9 1065.4,1542.9 1095.3,1552.1 1125.3,1565.3 1155.2,1537.7 1185.1,1392.7 1215.1,1542.0 1245.0,1553.5 1275.0,1556.8 1304.9,1551.2 1334.9,1573.2 1364.8,1562.0 1394.7,1537.8 1424.7,1555.1 1454.6,1559.7 1484.6,1563.7 1514.5,1587.1 1544.4,1591.5 1574.4,1575.3 1604.3,1586.5 1634.3,1595.4 1664.2,1569.9 1694.1,1562.4 1724.1,1495.2"/><polyline stroke-opacity="0.16" points="406.7,1508.0 436.6,1504.0 466.6,1500.4 496.5,1495.4 526.4,1488.0 556.4,1467.5 586.3,1417.4 616.3,1278.4 646.2,1395.6 676.2,1458.2 706.1,1489.1 736.0,1498.1 766.0,1493.8 795.9,1490.4 825.9,1469.6 855.8,1447.0 885.7,1325.3 915.7,1338.3 945.6,1439.2 975.6,1475.1 1005.5,1500.5 1035.4,1521.2 1065.4,1545.4 1095.3,1552.3 1125.3,1569.0 1155.2,1534.0 1185.1,1392.2 1215.1,1565.2 1245.0,1550.0 1275.0,1570.4 1304.9,1571.0 1334.9,1550.7 1364.8,1554.1 1394.7,1562.9 1424.7,1541.9 1454.6,1585.6 1484.6,1557.5 1514.5,1569.2 1544.4,1598.7 1574.4,1579.0 1604.3,1594.9 1634.3,1581.9 1664.2,1584.8 1694.1,1562.4 1724.1,1503.9"/><polyline stroke-opacity="0.16" points="406.7,1507.5 436.6,1501.1 466.6,1499.0 496.5,1502.3 526.4,1488.2 556.4,1469.0 586.3,1419.0 616.3,1291.1 646.2,1396.4 676.2,1456.6 706.1,1491.9 736.0,1504.9 766.0,1505.7 795.9,1490.4 825.9,1464.9 855.8,1447.1 885.7,1316.4 915.7,1347.9 945.6,1438.9 975.6,1475.4 1005.5,1499.7 1035.4,1522.5 1065.4,1544.6 1095.3,1559.1 1125.3,1574.3 1155.2,1538.2 1185.1,1388.6 1215.1,1553.5 1245.0,1558.3 1275.0,1578.0 1304.9,1570.0 1334.9,1562.5 1364.8,1562.9 1394.7,1550.3 1424.7,1560.0 1454.6,1562.7 1484.6,1574.3 1514.5,1573.8 1544.4,1597.2 1574.4,1595.8 1604.3,1588.4 1634.3,1615.4 1664.2,1569.2 1694.1,1564.8 1724.1,1498.9"/><polyline stroke-opacity="0.16" points="406.7,1509.0 436.6,1505.9 466.6,1506.8 496.5,1501.7 526.4,1492.5 556.4,1471.8 586.3,1415.5 616.3,1294.9 646.2,1396.8 676.2,1456.3 706.1,1488.9 736.0,1502.2 766.0,1493.0 795.9,1493.9 825.9,1472.8 855.8,1445.8 885.7,1338.8 915.7,1328.7 945.6,1440.9 975.6,1472.2 1005.5,1501.8 1035.4,1521.8 1065.4,1546.5 1095.3,1556.0 1125.3,1573.4 1155.2,1538.1 1185.1,1392.6 1215.1,1545.2 1245.0,1552.9 1275.0,1565.2 1304.9,1554.5 1334.9,1576.9 1364.8,1551.5 1394.7,1578.9 1424.7,1558.4 1454.6,1589.1 1484.6,1583.1 1514.5,1588.3 1544.4,1598.2 1574.4,1590.6 1604.3,1579.7 1634.3,1591.3 1664.2,1571.4 1694.1,1564.9 1724.1,1501.2"/><polyline stroke-opacity="0.16" points="406.7,1510.6 436.6,1505.4 466.6,1505.2 496.5,1502.0 526.4,1486.1 556.4,1468.2 586.3,1420.7 616.3,1290.6 646.2,1396.1 676.2,1465.8 706.1,1500.7 736.0,1505.5 766.0,1497.2 795.9,1491.0 825.9,1463.0 855.8,1448.5 885.7,1311.5 915.7,1355.5 945.6,1443.0 975.6,1473.5 1005.5,1500.0 1035.4,1521.7 1065.4,1545.1 1095.3,1557.4 1125.3,1569.1 1155.2,1532.4 1185.1,1388.3 1215.1,1543.0 1245.0,1560.0 1275.0,1557.2 1304.9,1573.6 1334.9,1561.3 1364.8,1553.3 1394.7,1560.8 1424.7,1570.9 1454.6,1570.9 1484.6,1577.1 1514.5,1577.6 1544.4,1602.5 1574.4,1594.2 1604.3,1594.1 1634.3,1575.5 1664.2,1589.9 1694.1,1572.5 1724.1,1501.3"/><polyline stroke-opacity="0.16" points="406.7,1511.8 436.6,1511.7 466.6,1499.0 496.5,1498.3 526.4,1488.4 556.4,1469.2 586.3,1418.5 616.3,1289.2 646.2,1397.0 676.2,1458.9 706.1,1487.8 736.0,1506.4 766.0,1503.1 795.9,1488.1 825.9,1479.2 855.8,1447.8 885.7,1326.8 915.7,1344.4 945.6,1441.0 975.6,1475.0 1005.5,1503.7 1035.4,1516.2 1065.4,1540.0 1095.3,1552.1 1125.3,1573.6 1155.2,1538.2 1185.1,1391.6 1215.1,1560.0 1245.0,1554.5 1275.0,1563.3 1304.9,1578.0 1334.9,1578.2 1364.8,1556.7 1394.7,1575.5 1424.7,1582.1 1454.6,1581.1 1484.6,1569.8 1514.5,1591.8 1544.4,1600.8 1574.4,1589.7 1604.3,1605.0 1634.3,1615.7 1664.2,1577.8 1694.1,1574.3 1724.1,1501.7"/><polyline stroke-opacity="0.16" points="406.7,1512.0 436.6,1513.9 466.6,1506.6 496.5,1502.1 526.4,1487.7 556.4,1469.8 586.3,1417.8 616.3,1289.0 646.2,1400.0 676.2,1459.3 706.1,1490.4 736.0,1499.0 766.0,1502.4 795.9,1492.8 825.9,1471.7 855.8,1447.8 885.7,1311.3 915.7,1354.5 945.6,1444.1 975.6,1477.2 1005.5,1500.4 1035.4,1523.4 1065.4,1546.1 1095.3,1556.8 1125.3,1576.5 1155.2,1539.1 1185.1,1390.7 1215.1,1549.4 1245.0,1574.4 1275.0,1551.0 1304.9,1568.8 1334.9,1583.5 1364.8,1553.5 1394.7,1568.8 1424.7,1549.5 1454.6,1558.6 1484.6,1580.7 1514.5,1577.9 1544.4,1594.6 1574.4,1602.0 1604.3,1580.4 1634.3,1622.1 1664.2,1588.6 1694.1,1566.5 1724.1,1499.5"/><polyline stroke-opacity="0.16" points="406.7,1510.7 436.6,1513.3 466.6,1510.5 496.5,1502.3 526.4,1489.3 556.4,1469.1 586.3,1418.8 616.3,1289.4 646.2,1398.0 676.2,1464.7 706.1,1495.4 736.0,1508.4 766.0,1526.1 795.9,1505.6 825.9,1465.3 855.8,1448.7 885.7,1338.6 915.7,1331.4 945.6,1443.2 975.6,1476.4 1005.5,1506.3 1035.4,1523.0 1065.4,1546.7 1095.3,1558.9 1125.3,1578.6 1155.2,1536.2 1185.1,1394.6 1215.1,1562.3 1245.0,1579.0 1275.0,1580.7 1304.9,1579.4 1334.9,1565.7 1364.8,1581.9 1394.7,1562.1 1424.7,1572.5 1454.6,1607.1 1484.6,1574.6 1514.5,1603.9 1544.4,1593.8 1574.4,1598.6 1604.3,1608.1 1634.3,1591.7 1664.2,1590.4 1694.1,1571.7 1724.1,1503.9"/><polyline stroke-opacity="0.16" points="406.7,1523.6 436.6,1514.3 466.6,1511.0 496.5,1510.8 526.4,1491.4 556.4,1469.4 586.3,1419.0 616.3,1292.0 646.2,1395.4 676.2,1465.5 706.1,1500.0 736.0,1530.8 766.0,1502.4 795.9,1495.7 825.9,1466.8 855.8,1449.1 885.7,1329.4 915.7,1343.3 945.6,1441.2 975.6,1476.3 1005.5,1502.6 1035.4,1522.4 1065.4,1549.4 1095.3,1558.1 1125.3,1575.3 1155.2,1540.8 1185.1,1390.4 1215.1,1581.3 1245.0,1551.4 1275.0,1581.9 1304.9,1563.4 1334.9,1594.3 1364.8,1585.8 1394.7,1588.6 1424.7,1553.7 1454.6,1585.9 1484.6,1583.9 1514.5,1590.9 1544.4,1595.0 1574.4,1623.7 1604.3,1585.0 1634.3,1594.1 1664.2,1593.8 1694.1,1573.2 1724.1,1500.6"/><polyline stroke-opacity="0.16" points="406.7,1539.6 436.6,1521.4 466.6,1507.2 496.5,1498.7 526.4,1489.7 556.4,1470.0 586.3,1418.1 616.3,1288.4 646.2,1401.2 676.2,1474.1 706.1,1497.9 736.0,1509.1 766.0,1518.5 795.9,1499.5 825.9,1482.0 855.8,1448.1 885.7,1337.1 915.7,1334.4 945.6,1440.3 975.6,1475.9 1005.5,1501.9 1035.4,1522.2 1065.4,1547.5 1095.3,1559.7 1125.3,1574.0 1155.2,1538.7 1185.1,1386.7 1215.1,1560.7 1245.0,1556.3 1275.0,1586.7 1304.9,1552.0 1334.9,1592.1 1364.8,1550.7 1394.7,1576.9 1424.7,1570.8 1454.6,1568.8 1484.6,1576.4 1514.5,1600.8 1544.4,1596.8 1574.4,1600.1 1604.3,1604.7 1634.3,1619.6 1664.2,1579.1 1694.1,1592.1 1724.1,1509.0"/><polyline stroke-opacity="0.16" points="406.7,1534.2 436.6,1516.5 466.6,1516.4 496.5,1503.2 526.4,1494.4 556.4,1470.4 586.3,1418.0 616.3,1288.1 646.2,1404.9 676.2,1467.6 706.1,1497.2 736.0,1508.8 766.0,1525.9 795.9,1508.7 825.9,1484.1 855.8,1447.4 885.7,1321.6 915.7,1345.5 945.6,1441.4 975.6,1478.7 1005.5,1507.6 1035.4,1523.9 1065.4,1550.3 1095.3,1558.2 1125.3,1572.3 1155.2,1539.2 1185.1,1396.7 1215.1,1584.0 1245.0,1574.5 1275.0,1576.0 1304.9,1600.6 1334.9,1585.0 1364.8,1566.3 1394.7,1564.5 1424.7,1562.5 1454.6,1586.6 1484.6,1583.8 1514.5,1605.9 1544.4,1623.3 1574.4,1619.9 1604.3,1582.8 1634.3,1616.5 1664.2,1587.8 1694.1,1572.6 1724.1,1508.2"/><polyline stroke-opacity="0.16" points="406.7,1536.6 436.6,1516.5 466.6,1510.0 496.5,1519.9 526.4,1491.7 556.4,1470.9 586.3,1419.1 616.3,1291.6 646.2,1407.0 676.2,1465.1 706.1,1497.4 736.0,1504.5 766.0,1495.6 795.9,1520.8 825.9,1477.0 855.8,1451.5 885.7,1343.9 915.7,1330.5 945.6,1443.3 975.6,1480.0 1005.5,1507.0 1035.4,1523.8 1065.4,1548.5 1095.3,1556.9 1125.3,1581.3 1155.2,1539.3 1185.1,1395.5 1215.1,1581.5 1245.0,1562.1 1275.0,1579.7 1304.9,1583.0 1334.9,1583.7 1364.8,1581.3 1394.7,1560.2 1424.7,1571.6 1454.6,1586.2 1484.6,1584.2 1514.5,1594.7 1544.4,1597.0 1574.4,1597.6 1604.3,1624.5 1634.3,1606.6 1664.2,1590.1 1694.1,1578.0 1724.1,1512.4"/><polyline stroke-opacity="0.16" points="406.7,1517.4 436.6,1531.2 466.6,1510.3 496.5,1509.2 526.4,1500.5 556.4,1470.8 586.3,1419.6 616.3,1289.9 646.2,1403.5 676.2,1472.5 706.1,1503.5 736.0,1505.9 766.0,1506.6 795.9,1510.2 825.9,1477.3 855.8,1450.7 885.7,1312.8 915.7,1353.3 945.6,1441.7 975.6,1481.1 1005.5,1508.6 1035.4,1523.9 1065.4,1550.9 1095.3,1557.5 1125.3,1576.8 1155.2,1539.5 1185.1,1389.5 1215.1,1596.4 1245.0,1578.8 1275.0,1585.7 1304.9,1601.1 1334.9,1595.3 1364.8,1571.1 1394.7,1586.1 1424.7,1582.9 1454.6,1621.1 1484.6,1585.4 1514.5,1608.6 1544.4,1608.0 1574.4,1616.0 1604.3,1613.5 1634.3,1623.1 1664.2,1594.2 1694.1,1585.4 1724.1,1516.2"/><polyline stroke-opacity="0.16" points="406.7,1538.1 436.6,1526.2 466.6,1517.6 496.5,1513.4 526.4,1491.0 556.4,1469.8 586.3,1420.8 616.3,1295.7 646.2,1407.2 676.2,1476.3 706.1,1499.4 736.0,1519.8 766.0,1513.6 795.9,1495.2 825.9,1491.0 855.8,1453.9 885.7,1330.7 915.7,1331.6 945.6,1443.1 975.6,1479.1 1005.5,1508.2 1035.4,1527.1 1065.4,1549.8 1095.3,1566.0 1125.3,1581.4 1155.2,1540.3 1185.1,1394.2 1215.1,1604.1 1245.0,1594.0 1275.0,1601.6 1304.9,1569.4 1334.9,1566.3 1364.8,1610.4 1394.7,1598.6 1424.7,1595.4 1454.6,1604.6 1484.6,1590.0 1514.5,1606.5 1544.4,1617.7 1574.4,1626.2 1604.3,1623.4 1634.3,1612.7 1664.2,1592.8 1694.1,1598.8 1724.1,1523.4"/><polyline stroke-opacity="0.16" points="406.7,1519.3 436.6,1516.5 466.6,1520.1 496.5,1501.6 526.4,1495.6 556.4,1472.4 586.3,1420.6 616.3,1299.6 646.2,1407.4 676.2,1468.6 706.1,1494.4 736.0,1501.2 766.0,1525.2 795.9,1515.4 825.9,1470.5 855.8,1451.8 885.7,1321.9 915.7,1347.3 945.6,1439.5 975.6,1482.4 1005.5,1506.3 1035.4,1527.1 1065.4,1555.3 1095.3,1556.4 1125.3,1577.8 1155.2,1538.3 1185.1,1392.7 1215.1,1579.0 1245.0,1575.6 1275.0,1576.3 1304.9,1564.4 1334.9,1584.7 1364.8,1590.1 1394.7,1586.7 1424.7,1579.6 1454.6,1591.3 1484.6,1593.4 1514.5,1588.1 1544.4,1627.9 1574.4,1609.7 1604.3,1595.2 1634.3,1611.7 1664.2,1602.6 1694.1,1604.6 1724.1,1521.3"/><polyline stroke-opacity="0.16" points="406.7,1540.7 436.6,1533.1 466.6,1521.5 496.5,1511.2 526.4,1497.6 556.4,1472.7 586.3,1421.4 616.3,1286.0 646.2,1402.1 676.2,1472.6 706.1,1505.2 736.0,1517.5 766.0,1555.3 795.9,1499.1 825.9,1479.0 855.8,1451.5 885.7,1315.2 915.7,1353.2 945.6,1446.4 975.6,1480.6 1005.5,1508.2 1035.4,1526.3 1065.4,1548.9 1095.3,1561.8 1125.3,1580.4 1155.2,1539.7 1185.1,1394.7 1215.1,1610.4 1245.0,1584.6 1275.0,1596.6 1304.9,1587.3 1334.9,1609.5 1364.8,1595.3 1394.7,1594.4 1424.7,1599.2 1454.6,1620.5 1484.6,1588.0 1514.5,1602.8 1544.4,1636.0 1574.4,1610.1 1604.3,1635.3 1634.3,1626.9 1664.2,1622.6 1694.1,1584.5 1724.1,1506.4"/><polyline stroke-opacity="0.16" points="406.7,1528.6 436.6,1523.7 466.6,1515.7 496.5,1508.0 526.4,1496.0 556.4,1472.4 586.3,1419.8 616.3,1298.0 646.2,1412.5 676.2,1487.9 706.1,1517.3 736.0,1520.6 766.0,1543.5 795.9,1527.5 825.9,1480.1 855.8,1455.4 885.7,1333.8 915.7,1334.6 945.6,1443.1 975.6,1481.2 1005.5,1505.7 1035.4,1527.9 1065.4,1551.9 1095.3,1568.6 1125.3,1582.4 1155.2,1539.1 1185.1,1395.0 1215.1,1579.5 1245.0,1591.2 1275.0,1602.3 1304.9,1582.4 1334.9,1581.4 1364.8,1594.1 1394.7,1580.1 1424.7,1581.1 1454.6,1587.3 1484.6,1592.9 1514.5,1607.1 1544.4,1628.9 1574.4,1597.0 1604.3,1627.8 1634.3,1640.2 1664.2,1601.9 1694.1,1584.6 1724.1,1516.7"/><polyline stroke-opacity="0.16" points="406.7,1539.0 436.6,1525.5 466.6,1522.0 496.5,1516.3 526.4,1496.7 556.4,1473.6 586.3,1421.6 616.3,1295.5 646.2,1414.8 676.2,1471.4 706.1,1503.8 736.0,1512.3 766.0,1535.7 795.9,1510.5 825.9,1497.8 855.8,1452.3 885.7,1339.7 915.7,1327.4 945.6,1443.3 975.6,1480.7 1005.5,1510.1 1035.4,1524.9 1065.4,1550.5 1095.3,1567.1 1125.3,1579.3 1155.2,1539.0 1185.1,1401.4 1215.1,1607.6 1245.0,1584.2 1275.0,1613.2 1304.9,1596.4 1334.9,1595.6 1364.8,1601.7 1394.7,1614.4 1424.7,1590.4 1454.6,1603.0 1484.6,1587.4 1514.5,1611.0 1544.4,1615.0 1574.4,1617.7 1604.3,1608.3 1634.3,1623.0 1664.2,1598.0 1694.1,1590.6 1724.1,1514.5"/><polyline stroke-opacity="0.16" points="406.7,1536.2 436.6,1521.7 466.6,1530.8 496.5,1512.0 526.4,1498.4 556.4,1474.6 586.3,1420.4 616.3,1294.9 646.2,1407.9 676.2,1480.7 706.1,1506.3 736.0,1499.7 766.0,1530.2 795.9,1531.1 825.9,1498.9 855.8,1459.5 885.7,1347.8 915.7,1326.7 945.6,1444.1 975.6,1484.0 1005.5,1507.9 1035.4,1528.6 1065.4,1553.8 1095.3,1563.7 1125.3,1576.8 1155.2,1540.2 1185.1,1393.0 1215.1,1584.5 1245.0,1581.7 1275.0,1613.7 1304.9,1594.1 1334.9,1599.0 1364.8,1614.4 1394.7,1602.9 1424.7,1587.9 1454.6,1599.2 1484.6,1592.1 1514.5,1609.0 1544.4,1633.8 1574.4,1621.1 1604.3,1635.1 1634.3,1620.4 1664.2,1614.5 1694.1,1595.9 1724.1,1533.3"/><polyline stroke-opacity="0.16" points="406.7,1545.4 436.6,1526.9 466.6,1534.2 496.5,1513.6 526.4,1496.3 556.4,1474.5 586.3,1420.8 616.3,1292.2 646.2,1407.9 676.2,1489.2 706.1,1508.4 736.0,1535.2 766.0,1528.6 795.9,1507.8 825.9,1499.1 855.8,1451.2 885.7,1331.8 915.7,1336.3 945.6,1450.5 975.6,1489.7 1005.5,1512.6 1035.4,1527.5 1065.4,1554.7 1095.3,1563.5 1125.3,1583.3 1155.2,1540.7 1185.1,1395.2 1215.1,1606.0 1245.0,1590.9 1275.0,1605.9 1304.9,1602.3 1334.9,1599.1 1364.8,1615.8 1394.7,1620.8 1424.7,1590.6 1454.6,1624.4 1484.6,1593.6 1514.5,1625.1 1544.4,1622.3 1574.4,1623.6 1604.3,1637.4 1634.3,1633.0 1664.2,1611.8 1694.1,1609.7 1724.1,1521.7"/><polyline stroke-opacity="0.16" points="406.7,1566.9 436.6,1568.8 466.6,1548.4 496.5,1529.1 526.4,1506.5 556.4,1479.6 586.3,1423.1 616.3,1294.8 646.2,1416.0 676.2,1506.6 706.1,1505.7 736.0,1534.1 766.0,1615.0 795.9,1528.9 825.9,1517.1 855.8,1459.7 885.7,1335.7 915.7,1335.2 945.6,1452.4 975.6,1494.1 1005.5,1521.4 1035.4,1534.3 1065.4,1561.0 1095.3,1570.5 1125.3,1592.7 1155.2,1543.9 1185.1,1397.4 1215.1,1613.3 1245.0,1690.0 1275.0,1622.8 1304.9,1686.0 1334.9,1689.0 1364.8,1621.6 1394.7,1632.7 1424.7,1613.8 1454.6,1658.2 1484.6,1630.9 1514.5,1640.3 1544.4,1670.2 1574.4,1641.7 1604.3,1678.0 1634.3,1647.0 1664.2,1642.0 1694.1,1631.8 1724.1,1539.7"/><polyline stroke-opacity="0.16" points="406.7,1582.3 436.6,1565.8 466.6,1554.7 496.5,1522.8 526.4,1503.3 556.4,1479.7 586.3,1422.8 616.3,1296.8 646.2,1421.5 676.2,1494.9 706.1,1531.8 736.0,1561.7 766.0,1598.0 795.9,1540.6 825.9,1524.0 855.8,1459.2 885.7,1325.8 915.7,1339.6 945.6,1450.7 975.6,1487.8 1005.5,1524.2 1035.4,1534.2 1065.4,1560.5 1095.3,1578.1 1125.3,1620.0 1155.2,1650.0 1185.1,1395.8 1215.1,1624.7 1245.0,1610.8 1275.0,1630.8 1304.9,1636.0 1334.9,1658.7 1364.8,1634.5 1394.7,1643.2 1424.7,1616.6 1454.6,1670.3 1484.6,1624.2 1514.5,1633.7 1544.4,1653.6 1574.4,1647.6 1604.3,1648.0 1634.3,1671.6 1664.2,1652.3 1694.1,1622.6 1724.1,1537.1"/><polyline stroke-opacity="0.16" points="406.7,1539.5 436.6,1532.4 466.6,1530.9 496.5,1519.8 526.4,1501.1 556.4,1476.5 586.3,1420.8 616.3,1291.0 646.2,1409.7 676.2,1485.1 706.1,1511.7 736.0,1541.3 766.0,1534.6 795.9,1546.3 825.9,1481.2 855.8,1457.2 885.7,1337.7 915.7,1332.4 945.6,1449.2 975.6,1489.4 1005.5,1513.9 1035.4,1531.9 1065.4,1552.0 1095.3,1566.9 1125.3,1581.2 1155.2,1541.5 1185.1,1400.2 1215.1,1616.1 1245.0,1591.2 1275.0,1605.0 1304.9,1622.0 1334.9,1597.5 1364.8,1618.3 1394.7,1612.7 1424.7,1582.7 1454.6,1630.8 1484.6,1595.6 1514.5,1629.8 1544.4,1636.1 1574.4,1615.9 1604.3,1639.4 1634.3,1638.3 1664.2,1635.3 1694.1,1596.4 1724.1,1535.0"/><polyline stroke-opacity="0.16" points="406.7,1562.1 436.6,1541.9 466.6,1513.5 496.5,1521.1 526.4,1505.0 556.4,1477.9 586.3,1423.8 616.3,1294.6 646.2,1416.1 676.2,1495.5 706.1,1517.5 736.0,1530.0 766.0,1590.4 795.9,1517.9 825.9,1485.8 855.8,1456.6 885.7,1329.2 915.7,1341.5 945.6,1444.0 975.6,1487.4 1005.5,1513.4 1035.4,1532.6 1065.4,1557.8 1095.3,1571.5 1125.3,1588.7 1155.2,1541.9 1185.1,1393.6 1215.1,1582.8 1245.0,1611.8 1275.0,1610.0 1304.9,1597.7 1334.9,1620.2 1364.8,1608.7 1394.7,1610.7 1424.7,1616.9 1454.6,1597.5 1484.6,1597.8 1514.5,1620.4 1544.4,1637.7 1574.4,1643.4 1604.3,1632.5 1634.3,1656.7 1664.2,1636.6 1694.1,1596.1 1724.1,1521.8"/><polyline stroke-opacity="0.16" points="406.7,1546.5 436.6,1546.7 466.6,1530.3 496.5,1519.6 526.4,1501.4 556.4,1476.4 586.3,1423.6 616.3,1294.9 646.2,1412.1 676.2,1507.2 706.1,1516.2 736.0,1535.9 766.0,1548.3 795.9,1537.6 825.9,1498.6 855.8,1457.7 885.7,1349.8 915.7,1322.0 945.6,1447.9 975.6,1486.6 1005.5,1513.3 1035.4,1531.6 1065.4,1555.9 1095.3,1573.7 1125.3,1587.4 1155.2,1542.6 1185.1,1399.4 1215.1,1601.9 1245.0,1617.0 1275.0,1588.5 1304.9,1631.3 1334.9,1632.9 1364.8,1605.6 1394.7,1633.4 1424.7,1470.0 1454.6,1644.3 1484.6,1609.7 1514.5,1622.0 1544.4,1642.3 1574.4,1629.8 1604.3,1647.9 1634.3,1654.0 1664.2,1560.0 1694.1,1436.0 1724.1,1480.0"/><polyline stroke-opacity="0.16" points="406.7,1564.3 436.6,1550.7 466.6,1539.7 496.5,1523.1 526.4,1502.3 556.4,1476.1 586.3,1424.6 616.3,1296.2 646.2,1426.3 676.2,1515.2 706.1,1528.4 736.0,1551.5 766.0,1596.5 795.9,1528.6 825.9,1493.9 855.8,1461.1 885.7,1339.3 915.7,1332.1 945.6,1449.7 975.6,1490.5 1005.5,1522.7 1035.4,1532.9 1065.4,1559.8 1095.3,1590.0 1125.3,1645.0 1155.2,1600.0 1185.1,1398.1 1215.1,1629.5 1245.0,1608.0 1275.0,1645.9 1304.9,1640.4 1334.9,1637.4 1364.8,1633.2 1394.7,1621.0 1424.7,1619.2 1454.6,1649.4 1484.6,1612.3 1514.5,1625.6 1544.4,1654.6 1574.4,1666.8 1604.3,1655.4 1634.3,1649.7 1664.2,1646.4 1694.1,1629.6 1724.1,1547.3"/><polyline stroke-opacity="0.16" points="406.7,1586.3 436.6,1558.4 466.6,1563.0 496.5,1513.4 526.4,1497.5 556.4,1475.3 586.3,1421.7 616.3,1298.4 646.2,1424.8 676.2,1486.1 706.1,1529.0 736.0,1552.0 766.0,1567.6 795.9,1546.9 825.9,1517.5 855.8,1455.5 885.7,1341.9 915.7,1329.5 945.6,1448.6 975.6,1489.6 1005.5,1518.4 1035.4,1531.1 1065.4,1564.7 1095.3,1569.9 1125.3,1578.9 1155.2,1541.5 1185.1,1395.7 1215.1,1631.1 1245.0,1613.9 1275.0,1611.3 1304.9,1612.8 1334.9,1616.7 1364.8,1612.9 1394.7,1618.1 1424.7,1604.5 1454.6,1620.2 1484.6,1617.0 1514.5,1624.9 1544.4,1647.6 1574.4,1640.1 1604.3,1661.8 1634.3,1666.9 1664.2,1636.9 1694.1,1628.0 1724.1,1536.6"/><polyline stroke-opacity="0.16" points="406.7,1575.5 436.6,1548.5 466.6,1528.4 496.5,1529.9 526.4,1507.2 556.4,1476.9 586.3,1422.7 616.3,1295.2 646.2,1410.4 676.2,1487.4 706.1,1526.3 736.0,1560.0 766.0,1579.9 795.9,1549.3 825.9,1503.6 855.8,1455.3 885.7,1324.9 915.7,1345.0 945.6,1449.9 975.6,1486.6 1005.5,1524.0 1035.4,1532.2 1065.4,1561.3 1095.3,1568.0 1125.3,1591.5 1155.2,1544.5 1185.1,1400.3 1215.1,1614.9 1245.0,1611.3 1275.0,1623.1 1304.9,1631.7 1334.9,1627.9 1364.8,1627.8 1394.7,1615.0 1424.7,1600.8 1454.6,1638.8 1484.6,1641.5 1514.5,1621.2 1544.4,1657.1 1574.4,1656.2 1604.3,1639.9 1634.3,1641.8 1664.2,1633.1 1694.1,1616.9 1724.1,1532.6"/><polyline stroke-opacity="0.16" points="406.7,1577.5 436.6,1563.1 466.6,1552.1 496.5,1529.3 526.4,1510.2 556.4,1477.0 586.3,1424.3 616.3,1294.0 646.2,1434.0 676.2,1519.6 706.1,1541.2 736.0,1544.9 766.0,1611.8 795.9,1547.0 825.9,1519.2 855.8,1465.0 885.7,1344.8 915.7,1325.7 945.6,1452.4 975.6,1495.2 1005.5,1526.6 1035.4,1537.0 1065.4,1564.9 1095.3,1578.7 1125.3,1596.7 1155.2,1545.0 1185.1,1396.4 1215.1,1666.0 1245.0,1680.0 1275.0,1658.0 1304.9,1637.8 1334.9,1640.2 1364.8,1641.2 1394.7,1643.8 1424.7,1614.7 1454.6,1674.4 1484.6,1619.4 1514.5,1619.1 1544.4,1668.4 1574.4,1647.2 1604.3,1667.2 1634.3,1668.0 1664.2,1722.0 1694.1,1640.0 1724.1,1541.2"/><polyline stroke-opacity="0.16" points="406.7,1590.2 436.6,1576.1 466.6,1548.9 496.5,1532.3 526.4,1513.0 556.4,1480.4 586.3,1425.1 616.3,1302.2 646.2,1434.0 676.2,1518.2 706.1,1548.3 736.0,1569.1 766.0,1630.0 795.9,1600.0 825.9,1519.1 855.8,1463.4 885.7,1342.2 915.7,1323.9 945.6,1454.2 975.6,1497.0 1005.5,1527.0 1035.4,1538.0 1065.4,1564.6 1095.3,1584.0 1125.3,1596.4 1155.2,1544.7 1185.1,1399.8 1215.1,1662.0 1245.0,1637.5 1275.0,1639.6 1304.9,1642.5 1334.9,1660.0 1364.8,1658.0 1394.7,1643.5 1424.7,1638.2 1454.6,1674.4 1484.6,1644.0 1514.5,1643.7 1544.4,1678.7 1574.4,1652.7 1604.3,1663.8 1634.3,1690.5 1664.2,1658.0 1694.1,1638.5 1724.1,1560.0"/><polyline stroke-opacity="0.16" points="406.7,1568.4 436.6,1538.5 466.6,1526.2 496.5,1524.9 526.4,1511.5 556.4,1477.3 586.3,1423.0 616.3,1295.4 646.2,1420.6 676.2,1509.3 706.1,1534.7 736.0,1546.0 766.0,1564.2 795.9,1559.4 825.9,1506.3 855.8,1457.2 885.7,1320.7 915.7,1346.9 945.6,1451.5 975.6,1490.2 1005.5,1530.0 1035.4,1533.1 1065.4,1557.0 1095.3,1579.8 1125.3,1580.8 1155.2,1543.6 1185.1,1399.3 1215.1,1628.8 1245.0,1613.7 1275.0,1640.4 1304.9,1625.1 1334.9,1630.6 1364.8,1627.0 1394.7,1637.3 1424.7,1622.2 1454.6,1655.7 1484.6,1603.2 1514.5,1646.7 1544.4,1650.4 1574.4,1663.9 1604.3,1663.7 1634.3,1647.2 1664.2,1634.3 1694.1,1614.4 1724.1,1535.9"/><polyline stroke-opacity="0.16" points="406.7,1584.6 436.6,1563.6 466.6,1540.4 496.5,1540.0 526.4,1511.7 556.4,1479.1 586.3,1424.1 616.3,1299.7 646.2,1421.9 676.2,1498.6 706.1,1527.0 736.0,1546.5 766.0,1590.2 795.9,1554.8 825.9,1528.9 855.8,1457.6 885.7,1343.7 915.7,1330.0 945.6,1448.0 975.6,1499.6 1005.5,1519.6 1035.4,1532.1 1065.4,1561.0 1095.3,1576.0 1125.3,1589.0 1155.2,1543.0 1185.1,1400.6 1215.1,1624.3 1245.0,1616.2 1275.0,1624.1 1304.9,1628.0 1334.9,1634.3 1364.8,1630.2 1394.7,1642.6 1424.7,1612.0 1454.6,1656.1 1484.6,1632.5 1514.5,1635.1 1544.4,1656.3 1574.4,1656.9 1604.3,1651.3 1634.3,1668.7 1664.2,1639.5 1694.1,1601.6 1724.1,1550.1"/><polyline stroke-opacity="0.16" points="406.7,1548.8 436.6,1537.4 466.6,1533.6 496.5,1526.5 526.4,1500.4 556.4,1475.3 586.3,1421.2 616.3,1297.5 646.2,1406.9 676.2,1494.8 706.1,1526.1 736.0,1526.2 766.0,1541.2 795.9,1517.7 825.9,1492.3 855.8,1456.0 885.7,1309.9 915.7,1356.4 945.6,1450.9 975.6,1490.8 1005.5,1516.9 1035.4,1529.1 1065.4,1560.5 1095.3,1568.2 1125.3,1587.8 1155.2,1541.5 1185.1,1398.0 1215.1,1619.6 1245.0,1603.0 1275.0,1625.8 1304.9,1614.2 1334.9,1606.6 1364.8,1615.0 1394.7,1620.0 1424.7,1438.0 1454.6,1560.0 1484.6,1610.6 1514.5,1612.2 1544.4,1655.9 1574.4,1634.0 1604.3,1650.0 1634.3,1742.0 1664.2,1690.0 1694.1,1613.2 1724.1,1539.0"/><polyline stroke-opacity="0.16" points="406.7,1559.6 436.6,1565.8 466.6,1536.5 496.5,1525.3 526.4,1507.6 556.4,1476.5 586.3,1424.4 616.3,1302.9 646.2,1423.9 676.2,1509.8 706.1,1530.1 736.0,1576.0 766.0,1680.0 795.9,1590.0 825.9,1530.3 855.8,1459.5 885.7,1338.8 915.7,1332.1 945.6,1453.0 975.6,1500.0 1005.5,1519.5 1035.4,1537.2 1065.4,1562.3 1095.3,1579.1 1125.3,1589.3 1155.2,1541.4 1185.1,1400.9 1215.1,1629.0 1245.0,1615.9 1275.0,1627.4 1304.9,1641.6 1334.9,1660.0 1364.8,1640.9 1394.7,1623.4 1424.7,1638.9 1454.6,1647.6 1484.6,1617.9 1514.5,1649.1 1544.4,1668.1 1574.4,1659.9 1604.3,1671.6 1634.3,1695.8 1664.2,1623.5 1694.1,1633.3 1724.1,1559.1"/><polyline stroke-opacity="0.16" points="406.7,1561.1 436.6,1555.4 466.6,1556.2 496.5,1532.1 526.4,1511.8 556.4,1479.3 586.3,1423.3 616.3,1297.4 646.2,1432.3 676.2,1530.0 706.1,1531.7 736.0,1568.1 766.0,1593.9 795.9,1540.6 825.9,1513.3 855.8,1465.0 885.7,1318.9 915.7,1349.0 945.6,1452.4 975.6,1500.0 1005.5,1524.0 1035.4,1536.4 1065.4,1568.0 1095.3,1582.5 1125.3,1594.3 1155.2,1543.4 1185.1,1398.1 1215.1,1634.2 1245.0,1637.9 1275.0,1644.6 1304.9,1641.0 1334.9,1660.0 1364.8,1629.1 1394.7,1644.6 1424.7,1621.3 1454.6,1627.8 1484.6,1634.5 1514.5,1650.3 1544.4,1671.4 1574.4,1642.3 1604.3,1643.5 1634.3,1689.6 1664.2,1651.4 1694.1,1616.3 1724.1,1554.5"/><polyline stroke-opacity="0.16" points="406.7,1593.4 436.6,1570.6 466.6,1542.1 496.5,1529.3 526.4,1510.7 556.4,1480.5 586.3,1424.4 616.3,1297.4 646.2,1431.5 676.2,1530.0 706.1,1547.0 736.0,1576.0 766.0,1590.6 795.9,1559.9 825.9,1524.0 855.8,1460.6 885.7,1345.0 915.7,1325.1 945.6,1455.0 975.6,1491.9 1005.5,1528.7 1035.4,1537.6 1065.4,1568.0 1095.3,1582.6 1125.3,1595.1 1155.2,1545.0 1185.1,1399.2 1215.1,1653.4 1245.0,1625.1 1275.0,1643.7 1304.9,1658.0 1334.9,1660.0 1364.8,1653.2 1394.7,1646.1 1424.7,1627.9 1454.6,1659.2 1484.6,1631.4 1514.5,1643.6 1544.4,1670.3 1574.4,1658.6 1604.3,1678.0 1634.3,1667.4 1664.2,1643.3 1694.1,1642.2 1724.1,1549.2"/><polyline stroke-opacity="0.16" points="406.7,1549.1 436.6,1547.7 466.6,1535.6 496.5,1525.2 526.4,1502.6 556.4,1473.5 586.3,1422.5 616.3,1292.3 646.2,1414.1 676.2,1482.0 706.1,1527.5 736.0,1548.0 766.0,1564.6 795.9,1527.7 825.9,1509.6 855.8,1455.4 885.7,1332.5 915.7,1337.8 945.6,1447.5 975.6,1489.8 1005.5,1518.4 1035.4,1526.9 1065.4,1558.0 1095.3,1568.5 1125.3,1585.9 1155.2,1542.3 1185.1,1395.9 1215.1,1640.0 1245.0,1728.0 1275.0,1610.0 1304.9,1614.7 1334.9,1610.2 1364.8,1626.2 1394.7,1686.0 1424.7,1850.0 1454.6,1630.0 1484.6,1624.9 1514.5,1625.1 1544.4,1651.9 1574.4,1643.1 1604.3,1657.5 1634.3,1663.3 1664.2,1628.6 1694.1,1611.2 1724.1,1538.6"/><polyline stroke-opacity="0.16" points="406.7,1560.9 436.6,1579.0 466.6,1563.0 496.5,1530.7 526.4,1508.6 556.4,1480.0 586.3,1423.3 616.3,1307.5 646.2,1413.6 676.2,1519.7 706.1,1533.2 736.0,1590.0 766.0,1738.0 795.9,1612.0 825.9,1525.4 855.8,1465.0 885.7,1340.1 915.7,1330.8 945.6,1453.9 975.6,1494.2 1005.5,1525.2 1035.4,1532.0 1065.4,1559.9 1095.3,1579.0 1125.3,1598.0 1155.2,1542.8 1185.1,1402.2 1215.1,1649.6 1245.0,1634.9 1275.0,1640.2 1304.9,1645.4 1334.9,1643.3 1364.8,1642.8 1394.7,1660.0 1424.7,1626.1 1454.6,1655.4 1484.6,1632.5 1514.5,1643.7 1544.4,1683.0 1574.4,1656.6 1604.3,1668.2 1634.3,1666.6 1664.2,1650.7 1694.1,1638.1 1724.1,1555.5"/><polyline stroke-opacity="0.16" points="406.7,1561.7 436.6,1579.0 466.6,1559.5 496.5,1540.0 526.4,1513.0 556.4,1482.0 586.3,1424.9 616.3,1302.8 646.2,1422.3 676.2,1530.0 706.1,1550.0 736.0,1576.0 766.0,1605.1 795.9,1566.0 825.9,1517.7 855.8,1461.8 885.7,1320.4 915.7,1341.9 945.6,1455.0 975.6,1498.4 1005.5,1522.5 1035.4,1535.6 1065.4,1567.1 1095.3,1583.5 1125.3,1598.0 1155.2,1543.6 1185.1,1397.0 1215.1,1633.0 1245.0,1640.0 1275.0,1658.0 1304.9,1658.0 1334.9,1652.2 1364.8,1640.8 1394.7,1660.0 1424.7,1636.4 1454.6,1680.0 1484.6,1636.8 1514.5,1647.6 1544.4,1683.0 1574.4,1650.0 1604.3,1674.5 1634.3,1700.0 1664.2,1653.3 1694.1,1644.0 1724.1,1540.7"/><polyline stroke-opacity="0.16" points="406.7,1598.0 436.6,1579.0 466.6,1558.2 496.5,1539.8 526.4,1513.0 556.4,1480.7 586.3,1426.0 616.3,1296.4 646.2,1432.5 676.2,1530.0 706.1,1545.5 736.0,1569.3 766.0,1615.0 795.9,1566.0 825.9,1537.0 855.8,1462.5 885.7,1329.3 915.7,1343.3 945.6,1455.0 975.6,1500.0 1005.5,1530.0 1035.4,1535.8 1065.4,1566.0 1095.3,1584.0 1125.3,1595.9 1155.2,1545.0 1185.1,1402.1 1215.1,1658.2 1245.0,1629.2 1275.0,1655.7 1304.9,1645.4 1334.9,1655.0 1364.8,1653.2 1394.7,1652.5 1424.7,1645.0 1454.6,1666.1 1484.6,1636.7 1514.5,1658.0 1544.4,1683.0 1574.4,1672.0 1604.3,1670.4 1634.3,1700.0 1664.2,1658.0 1694.1,1643.9 1724.1,1560.0"/></g><polyline clip-path="url(#axclip)" fill="none" stroke="#e60000" stroke-width="4.4" stroke-linejoin="round" points="406.7,1599.1 436.6,1585.0 466.6,1576.4 496.5,1582.3 526.4,1575.5 556.4,1589.0 586.3,1577.5 616.3,1549.0 646.2,1564.8 676.2,1548.3 706.1,1572.5 736.0,1562.0 766.0,1560.2 795.9,1561.5 825.9,1558.7 855.8,1552.2 885.7,1579.6 915.7,1530.5 945.6,1481.6 975.6,1539.8 1005.5,1521.4 1035.4,1521.4 1065.4,1502.0 1095.3,1485.0 1125.3,1486.6 1155.2,1455.2 1185.1,1382.4 1215.1,1307.9 1245.0,1346.0 1275.0,1438.6 1304.9,1444.5 1334.9,1473.0 1364.8,1501.5 1394.7,1515.0 1424.7,1525.4 1454.6,1524.0 1484.6,1525.4 1514.5,1658.9 1544.4,1551.3 1574.4,1595.0 1604.3,1591.0 1634.3,1604.2 1664.2,1615.8 1694.1,1604.2 1724.1,1612.5"/><rect x="406.5" y="1238.0" width="1318.0" height="642.5" fill="none" stroke="#000" stroke-width="2"/><path d="M393,1270.4H406.5M398.2,1244.3H406.5M393,1357.0H406.5M398.2,1330.9H406.5M398.2,1315.7H406.5M398.2,1304.8H406.5M398.2,1296.5H406.5M398.2,1289.6H406.5M398.2,1283.8H406.5M398.2,1278.8H406.5M398.2,1274.4H406.5M393,1443.5H406.5M398.2,1417.4H406.5M398.2,1402.2H406.5M398.2,1391.4H406.5M398.2,1383.0H406.5M398.2,1376.2H406.5M398.2,1370.4H406.5M398.2,1365.3H406.5M398.2,1360.9H406.5M393,1530.1H406.5M398.2,1504.0H406.5M398.2,1488.8H406.5M398.2,1477.9H406.5M398.2,1469.6H406.5M398.2,1462.7H406.5M398.2,1456.9H406.5M398.2,1451.9H406.5M398.2,1447.5H406.5M393,1616.6H406.5M398.2,1590.5H406.5M398.2,1575.3H406.5M398.2,1564.5H406.5M398.2,1556.1H406.5M398.2,1549.3H406.5M398.2,1543.5H406.5M398.2,1538.4H406.5M398.2,1534.0H406.5M393,1703.2H406.5M398.2,1677.1H406.5M398.2,1661.9H406.5M398.2,1651.0H406.5M398.2,1642.7H406.5M398.2,1635.8H406.5M398.2,1630.0H406.5M398.2,1625.0H406.5M398.2,1620.6H406.5M393,1789.7H406.5M398.2,1763.6H406.5M398.2,1748.4H406.5M398.2,1737.6H406.5M398.2,1729.2H406.5M398.2,1722.4H406.5M398.2,1716.6H406.5M398.2,1711.5H406.5M398.2,1707.1H406.5M393,1876.2H406.5M398.2,1850.2H406.5M398.2,1835.0H406.5M398.2,1824.1H406.5M398.2,1815.8H406.5M398.2,1808.9H406.5M398.2,1803.1H406.5M398.2,1798.1H406.5M398.2,1793.7H406.5M398.2,1880.2H406.5M500.1,1880.5V1894M653.4,1880.5V1894M806.7,1880.5V1894M960.0,1880.5V1894M1113.3,1880.5V1894M1266.6,1880.5V1894M1419.9,1880.5V1894M1573.2,1880.5V1894" stroke="#000" stroke-width="1.7" fill="none"/><text class="dj" x="378" y="1284.7" font-size="38" text-anchor="end">10<tspan font-size="26" dy="-14.7">−1</tspan></text><text class="dj" x="378" y="1371.2" font-size="38" text-anchor="end">10<tspan font-size="26" dy="-14.7">−2</tspan></text><text class="dj" x="378" y="1457.8" font-size="38" text-anchor="end">10<tspan font-size="26" dy="-14.7">−3</tspan></text><text class="dj" x="378" y="1544.4" font-size="38" text-anchor="end">10<tspan font-size="26" dy="-14.7">−4</tspan></text><text class="dj" x="378" y="1630.9" font-size="38" text-anchor="end">10<tspan font-size="26" dy="-14.7">−5</tspan></text><text class="dj" x="378" y="1717.5" font-size="38" text-anchor="end">10<tspan font-size="26" dy="-14.7">−6</tspan></text><text class="dj" x="378" y="1804.0" font-size="38" text-anchor="end">10<tspan font-size="26" dy="-14.7">−7</tspan></text><text class="dj" x="378" y="1890.5" font-size="38" text-anchor="end">10<tspan font-size="26" dy="-14.7">−8</tspan></text><text class="dj" x="500.1" y="1940" font-size="38" text-anchor="middle">5</text><text class="dj" x="653.4" y="1940" font-size="38" text-anchor="middle">10</text><text class="dj" x="806.7" y="1940" font-size="38" text-anchor="middle">15</text><text class="dj" x="960.0" y="1940" font-size="38" text-anchor="middle">20</text><text class="dj" x="1113.3" y="1940" font-size="38" text-anchor="middle">25</text><text class="dj" x="1266.6" y="1940" font-size="38" text-anchor="middle">30</text><text class="dj" x="1419.9" y="1940" font-size="38" text-anchor="middle">35</text><text class="dj" x="1573.2" y="1940" font-size="38" text-anchor="middle">40</text><text class="dj" x="1066.6" y="2007.8" font-size="58" text-anchor="middle" textLength="220" lengthAdjust="spacingAndGlyphs">Freq Hz</text><text class="dj" x="0" y="0" font-size="58" text-anchor="middle" transform="translate(259.8,1561.9) rotate(-90)">Amp (a.u.)</text></g></svg></body></html>
